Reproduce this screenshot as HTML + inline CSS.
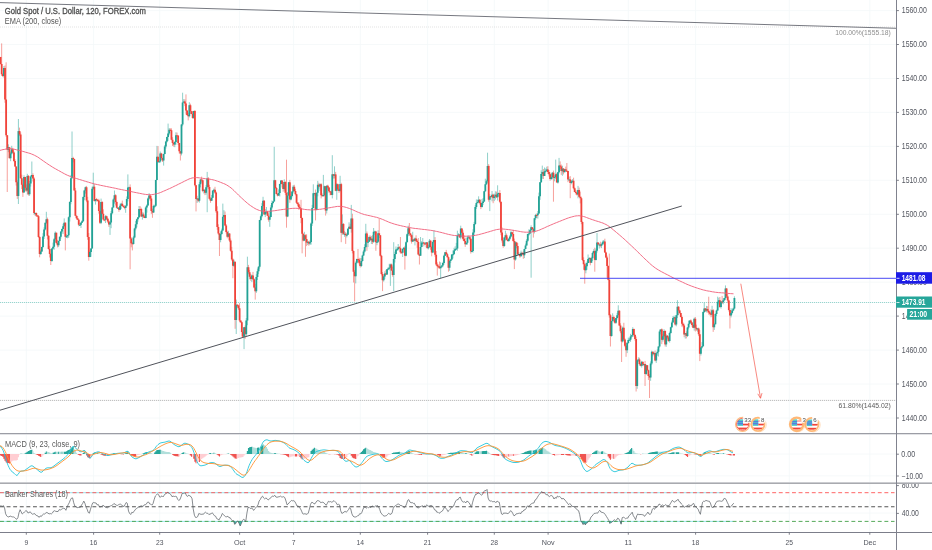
<!DOCTYPE html>
<html><head><meta charset="utf-8"><title>XAUUSD chart</title>
<style>
html,body{margin:0;padding:0;background:#fff;}
body{width:932px;height:550px;overflow:hidden;}
svg{display:block;font-family:"Liberation Sans",sans-serif;}
</style></head><body>
<svg width="932" height="550" viewBox="0 0 932 550" style="will-change:transform">
<rect x="0" y="0" width="932" height="550" fill="#ffffff"/>
<path d="M26.3 0V532M93.6 0V532M159.7 0V532M239.6 0V532M293.6 0V532M360.3 0V532M427.6 0V532M494.3 0V532M548.1 0V532M628.3 0V532M695.6 0V532M789.3 0V532M869.8 0V532" stroke="#f3f7f9" stroke-width="0.8" fill="none"/>
<path d="M0 418.0H896.5M0 384.0H896.5M0 350.1H896.5M0 316.1H896.5M0 282.2H896.5M0 248.2H896.5M0 214.3H896.5M0 180.3H896.5M0 146.4H896.5M0 112.4H896.5M0 78.5H896.5M0 44.5H896.5M0 10.6H896.5M0 454H896.5M0 475.8H896.5M0 513H896.5" stroke="#f4f7f9" stroke-width="0.8" fill="none"/>
<path d="M0 27H896.5" stroke="#d0d0d0" stroke-width="0.6" stroke-dasharray="1 1" fill="none"/>
<path d="M0 400.4H896.5" stroke="#8c8c8c" stroke-width="0.6" stroke-dasharray="1.2 0.8" fill="none"/>
<path d="M0 302.5H896.5" stroke="#26a69a" stroke-width="0.6" stroke-opacity="0.8" stroke-dasharray="1.2 0.8" fill="none"/>
<path d="M0 2.6L896.5 28.3" stroke="#666972" stroke-width="0.9" fill="none"/>
<g fill="none" stroke-width="1.0" stroke-opacity="0.5"><path d="M0.55 56.9V64.5M1.67 43.4V75.9M2.78 73.3V77.1" stroke="#f0433a"/><path d="M3.90 66.0V77.6" stroke="#22a295"/><path d="M5.02 65.5V102.8M6.13 62.3V136.9M7.25 135.0V192.0" stroke="#f0433a"/><path d="M8.37 144.3V152.2" stroke="#22a295"/><path d="M9.49 147.2V158.4" stroke="#f0433a"/><path d="M10.60 151.6V161.2M11.72 145.8V154.4" stroke="#22a295"/><path d="M12.84 147.8V153.1M13.95 151.4V162.1M15.07 159.2V166.9M16.19 166.4V185.6M17.30 180.3V198.9" stroke="#f0433a"/><path d="M18.42 119.0V204.0" stroke="#22a295"/><path d="M19.54 127.6V136.1M20.66 132.3V178.7M21.77 174.7V189.1M22.89 183.7V196.9" stroke="#f0433a"/><path d="M24.01 175.3V192.6" stroke="#22a295"/><path d="M25.12 176.7V191.4M26.24 184.4V191.8" stroke="#f0433a"/><path d="M27.36 173.8V194.6" stroke="#22a295"/><path d="M28.48 175.1V195.6" stroke="#f0433a"/><path d="M29.59 181.0V195.9M30.71 175.4V186.6M31.83 161.5V176.9" stroke="#22a295"/><path d="M32.94 173.3V181.5M34.06 177.2V214.8" stroke="#f0433a"/><path d="M35.18 212.5V215.8" stroke="#22a295"/><path d="M36.29 212.4V216.9M37.41 214.9V216.8M38.53 215.1V237.8M39.64 236.1V257.3" stroke="#f0433a"/><path d="M40.76 249.7V255.0M41.88 246.6V251.9M43.00 233.2V247.8M44.11 227.3V239.0M45.23 222.7V230.4M46.35 211.8V223.9" stroke="#22a295"/><path d="M47.46 217.6V239.5M48.58 235.2V249.6M49.70 245.7V257.5M50.81 252.9V265.0" stroke="#f0433a"/><path d="M51.93 248.2V261.9M53.05 242.6V249.4M54.17 238.0V249.7M55.28 231.4V242.0" stroke="#22a295"/><path d="M56.40 232.6V243.9M57.52 239.9V247.4" stroke="#f0433a"/><path d="M58.63 240.5V247.1M59.75 236.4V241.2M60.87 231.4V238.6M61.98 228.5V233.5M63.10 223.8V234.1M64.22 218.4V226.4" stroke="#22a295"/><path d="M65.34 222.3V250.4" stroke="#f0433a"/><path d="M66.45 234.3V238.0M67.57 234.9V238.3M68.69 216.4V237.9M69.80 201.2V221.5M70.92 174.9V204.3M72.04 131.5V178.4" stroke="#22a295"/><path d="M73.16 156.8V162.4M74.27 158.7V190.5M75.39 187.9V216.1M76.51 215.4V219.5M77.62 216.1V219.8M78.74 218.9V226.3" stroke="#f0433a"/><path d="M79.86 223.0V225.4M80.97 222.1V228.0M82.09 220.1V222.9M83.21 196.3V221.9M84.33 189.8V200.2M85.44 186.5V193.6" stroke="#22a295"/><path d="M86.56 185.9V202.2M87.68 196.8V239.8M88.79 233.0V260.7" stroke="#f0433a"/><path d="M89.91 250.6V257.3M91.03 248.1V256.8M92.14 186.6V248.5M93.26 172.7V189.9" stroke="#22a295"/><path d="M94.38 184.1V201.6" stroke="#f0433a"/><path d="M95.49 199.0V204.6" stroke="#22a295"/><path d="M96.61 197.9V201.6M97.73 199.4V201.7M98.85 198.8V213.7M99.96 210.9V224.0" stroke="#f0433a"/><path d="M101.08 198.6V224.1" stroke="#22a295"/><path d="M102.20 201.1V214.3M103.31 209.3V220.5M104.43 219.3V221.2" stroke="#f0433a"/><path d="M105.55 215.1V223.0" stroke="#22a295"/><path d="M106.66 215.5V219.9M107.78 217.9V222.9M108.90 220.3V226.9" stroke="#f0433a"/><path d="M110.02 221.6V234.9M111.13 211.0V228.2M112.25 207.2V214.3M113.37 198.4V207.6M114.48 190.5V203.6" stroke="#22a295"/><path d="M115.60 194.2V205.5M116.72 200.7V208.4" stroke="#f0433a"/><path d="M117.83 207.0V208.6" stroke="#22a295"/><path d="M118.95 207.1V211.9" stroke="#f0433a"/><path d="M120.07 203.6V210.2M121.19 202.8V209.1" stroke="#22a295"/><path d="M122.30 200.6V206.1M123.42 204.9V207.5M124.54 205.3V209.3" stroke="#f0433a"/><path d="M125.65 205.4V212.8M126.77 196.5V206.9M127.89 174.4V201.4M129.01 186.7V191.1" stroke="#22a295"/><path d="M130.12 184.4V269.3M131.24 237.2V247.3M132.36 241.8V250.4" stroke="#f0433a"/><path d="M133.47 235.8V244.5M134.59 227.7V238.3M135.71 221.0V230.3M136.82 218.6V227.3M137.94 217.3V221.7M139.06 206.0V218.1" stroke="#22a295"/><path d="M140.18 206.2V210.8M141.29 207.7V217.0" stroke="#f0433a"/><path d="M142.41 212.4V219.6" stroke="#22a295"/><path d="M143.53 212.6V218.0M144.64 215.7V218.1" stroke="#f0433a"/><path d="M145.76 206.3V218.3M146.88 204.3V212.6M147.99 197.5V205.5M149.11 193.1V199.7" stroke="#22a295"/><path d="M150.23 195.0V201.0M151.34 195.8V214.1M152.46 208.7V217.8" stroke="#f0433a"/><path d="M153.58 204.7V213.0M154.70 204.8V208.1M155.81 179.8V206.8M156.93 145.9V180.1" stroke="#22a295"/><path d="M158.05 146.1V162.5" stroke="#f0433a"/><path d="M159.16 161.2V162.1M160.28 151.5V162.6" stroke="#22a295"/><path d="M161.40 152.8V159.8M162.52 157.7V162.0" stroke="#f0433a"/><path d="M163.63 153.7V165.6M164.75 145.0V154.3M165.87 140.7V148.6M166.98 136.6V142.5M168.10 123.6V140.8M169.22 128.0V135.3" stroke="#22a295"/><path d="M170.33 128.2V130.9M171.45 128.3V140.3M172.57 137.2V146.0M173.69 141.9V146.7" stroke="#f0433a"/><path d="M174.80 141.1V147.2M175.92 132.3V144.9" stroke="#22a295"/><path d="M177.04 132.6V139.0M178.15 135.4V145.1M179.27 143.0V153.5M180.39 151.1V160.5" stroke="#f0433a"/><path d="M181.50 124.1V155.4M182.62 92.7V126.2M183.74 99.1V102.8" stroke="#22a295"/><path d="M184.86 99.3V106.1M185.97 94.4V114.5M187.09 110.2V115.6M188.21 112.8V120.4" stroke="#f0433a"/><path d="M189.32 102.2V117.4" stroke="#22a295"/><path d="M190.44 103.7V114.0M191.56 111.0V114.2M192.67 111.0V118.8" stroke="#f0433a"/><path d="M193.79 110.8V118.9" stroke="#22a295"/><path d="M194.91 110.0V186.5M196.03 184.9V211.4" stroke="#f0433a"/><path d="M197.14 195.8V202.9" stroke="#22a295"/><path d="M198.26 198.1V202.0" stroke="#f0433a"/><path d="M199.38 181.9V202.6M200.49 179.0V187.4" stroke="#22a295"/><path d="M201.61 176.6V182.7M202.73 179.5V192.2" stroke="#f0433a"/><path d="M203.84 188.9V193.5" stroke="#22a295"/><path d="M204.96 189.7V195.1" stroke="#f0433a"/><path d="M206.08 185.1V194.7M207.20 171.9V212.2" stroke="#22a295"/><path d="M208.31 177.0V189.1M209.43 184.8V199.7M210.55 197.3V202.8" stroke="#f0433a"/><path d="M211.66 195.0V200.8M212.78 190.4V197.9M213.90 188.5V192.6" stroke="#22a295"/><path d="M215.01 186.8V193.9M216.13 191.5V213.0M217.25 206.3V229.8M218.37 224.3V234.9M219.48 233.1V256.0" stroke="#f0433a"/><path d="M220.60 231.4V242.3M221.72 228.6V234.8M222.83 203.6V230.7M223.95 210.2V217.3" stroke="#22a295"/><path d="M225.07 211.5V226.2M226.18 224.0V233.5M227.30 230.7V238.3" stroke="#f0433a"/><path d="M228.42 230.8V237.2" stroke="#22a295"/><path d="M229.53 233.3V242.1M230.65 238.5V251.7M231.77 246.9V260.8M232.89 258.3V278.2" stroke="#f0433a"/><path d="M234.00 259.6V267.1" stroke="#22a295"/><path d="M235.12 261.4V328.8" stroke="#f0433a"/><path d="M236.24 299.6V334.0" stroke="#22a295"/><path d="M237.35 304.2V307.4M238.47 304.8V309.9M239.59 303.1V322.2M240.71 320.4V322.9M241.82 321.5V336.5M242.94 331.3V336.9" stroke="#f0433a"/><path d="M244.06 327.1V349.1" stroke="#22a295"/><path d="M245.17 325.5V338.8" stroke="#f0433a"/><path d="M246.29 318.0V336.2M247.41 256.7V325.2" stroke="#22a295"/><path d="M248.52 264.9V274.2M249.64 269.9V279.3M250.76 274.1V280.8" stroke="#f0433a"/><path d="M251.88 274.7V282.1" stroke="#22a295"/><path d="M252.99 271.9V280.3M254.11 278.2V288.3M255.23 283.8V299.6" stroke="#f0433a"/><path d="M256.34 274.2V292.9M257.46 268.6V280.0M258.58 266.1V274.1M259.69 219.9V268.6M260.81 214.5V221.0M261.93 203.1V217.5M263.05 196.8V206.3" stroke="#22a295"/><path d="M264.16 200.1V214.8" stroke="#f0433a"/><path d="M265.28 209.1V217.1M266.40 207.0V214.3" stroke="#22a295"/><path d="M267.51 211.0V215.9M268.63 213.5V221.7" stroke="#f0433a"/><path d="M269.75 211.2V226.8M270.86 205.1V217.2M271.98 200.5V209.3M273.10 201.1V204.3M274.22 146.8V201.5" stroke="#22a295"/><path d="M275.33 179.8V188.9M276.45 187.0V194.2M277.57 193.1V196.4" stroke="#f0433a"/><path d="M278.68 189.4V196.0M279.80 183.7V196.5M280.92 180.3V184.5" stroke="#22a295"/><path d="M282.03 180.1V187.5M283.15 181.9V191.8" stroke="#f0433a"/><path d="M284.27 179.3V190.6" stroke="#22a295"/><path d="M285.38 181.3V195.1M286.50 159.7V227.7" stroke="#f0433a"/><path d="M287.62 192.1V217.2M288.74 181.9V195.6" stroke="#22a295"/><path d="M289.85 179.9V202.8" stroke="#f0433a"/><path d="M290.97 194.4V200.4M292.09 191.2V197.4M293.20 185.1V193.4" stroke="#22a295"/><path d="M294.32 184.8V191.7M295.44 188.8V195.4M296.56 193.8V203.9M297.67 202.2V206.2M298.79 202.3V209.8M299.91 205.4V209.3M301.02 199.8V223.2M302.14 217.4V253.3M303.26 233.5V241.3" stroke="#f0433a"/><path d="M304.37 231.8V241.1" stroke="#22a295"/><path d="M305.49 234.3V256.8M306.61 234.2V246.1" stroke="#f0433a"/><path d="M307.73 240.4V245.0" stroke="#22a295"/><path d="M308.84 241.0V245.8" stroke="#f0433a"/><path d="M309.96 240.3V245.0M311.08 222.4V244.7M312.19 204.9V226.0M313.31 184.3V208.2M314.43 192.8V195.5" stroke="#22a295"/><path d="M315.54 189.5V220.4" stroke="#f0433a"/><path d="M316.66 192.3V210.4M317.78 180.9V196.3" stroke="#22a295"/><path d="M318.89 182.8V188.7" stroke="#f0433a"/><path d="M320.01 183.7V190.8" stroke="#22a295"/><path d="M321.13 183.2V198.4M322.25 193.5V196.4" stroke="#f0433a"/><path d="M323.36 174.9V196.8M324.48 185.7V196.3" stroke="#22a295"/><path d="M325.60 186.2V215.6" stroke="#f0433a"/><path d="M326.71 185.4V213.5" stroke="#22a295"/><path d="M327.83 184.7V189.7M328.95 187.0V192.8M330.06 191.2V195.3M331.18 190.5V195.1" stroke="#f0433a"/><path d="M332.30 155.2V198.4" stroke="#22a295"/><path d="M333.42 174.0V178.6" stroke="#f0433a"/><path d="M334.53 166.3V178.5" stroke="#22a295"/><path d="M335.65 171.9V191.2" stroke="#f0433a"/><path d="M336.77 183.0V199.8" stroke="#22a295"/><path d="M337.88 183.7V190.5M339.00 188.6V192.9" stroke="#f0433a"/><path d="M340.12 175.8V191.8" stroke="#22a295"/><path d="M341.24 182.8V242.2" stroke="#f0433a"/><path d="M342.35 214.4V234.9" stroke="#22a295"/><path d="M343.47 223.2V234.7" stroke="#f0433a"/><path d="M344.59 231.2V236.8" stroke="#22a295"/><path d="M345.70 232.1V243.9" stroke="#f0433a"/><path d="M346.82 233.2V237.4M347.94 228.2V234.8M349.05 222.3V229.0" stroke="#22a295"/><path d="M350.17 223.9V229.2" stroke="#f0433a"/><path d="M351.29 204.9V232.7" stroke="#22a295"/><path d="M352.41 213.7V253.4M353.52 250.5V282.5M354.64 270.1V301.4" stroke="#f0433a"/><path d="M355.76 261.4V283.4M356.87 258.6V263.7" stroke="#22a295"/><path d="M357.99 249.0V260.3M359.11 257.8V264.4M360.22 258.1V267.5" stroke="#f0433a"/><path d="M361.34 258.2V267.1M362.46 254.7V261.6M363.57 249.8V256.0M364.69 244.2V252.6M365.81 223.8V248.0" stroke="#22a295"/><path d="M366.93 231.5V250.8" stroke="#f0433a"/><path d="M368.04 238.7V247.1M369.16 235.6V241.8" stroke="#22a295"/><path d="M370.28 235.5V240.6" stroke="#f0433a"/><path d="M371.39 235.9V244.0" stroke="#22a295"/><path d="M372.51 235.2V244.1" stroke="#f0433a"/><path d="M373.63 228.0V242.9M374.75 230.7V234.8" stroke="#22a295"/><path d="M375.86 230.8V250.8" stroke="#f0433a"/><path d="M376.98 239.5V245.2M378.10 230.3V242.9" stroke="#22a295"/><path d="M379.21 218.7V238.0M380.33 235.1V256.7M381.45 254.9V275.4M382.56 272.1V291.1" stroke="#f0433a"/><path d="M383.68 275.7V281.6M384.80 271.3V279.1" stroke="#22a295"/><path d="M385.92 269.9V274.8" stroke="#f0433a"/><path d="M387.03 269.1V275.0M388.15 267.2V270.0M389.27 263.8V270.4M390.38 263.6V285.9" stroke="#22a295"/><path d="M391.50 263.6V270.8M392.62 266.6V276.7" stroke="#f0433a"/><path d="M393.73 242.2V291.1M394.85 251.7V262.5M395.97 246.5V254.4M397.09 248.2V250.7M398.20 244.0V250.4" stroke="#22a295"/><path d="M399.32 246.1V248.6M400.44 237.0V253.6M401.55 251.2V253.5" stroke="#f0433a"/><path d="M402.67 248.3V257.0M403.79 247.0V250.0" stroke="#22a295"/><path d="M404.90 245.8V269.6" stroke="#f0433a"/><path d="M406.02 241.3V256.4M407.14 233.5V242.3M408.25 225.7V236.2" stroke="#22a295"/><path d="M409.37 223.0V235.9M410.49 233.1V236.9M411.61 234.6V243.6" stroke="#f0433a"/><path d="M412.72 231.8V242.0" stroke="#22a295"/><path d="M413.84 238.6V241.3" stroke="#f0433a"/><path d="M414.96 237.5V245.4" stroke="#22a295"/><path d="M416.07 235.3V242.1M417.19 239.2V247.8M418.31 238.0V254.8M419.43 253.7V264.5" stroke="#f0433a"/><path d="M420.54 237.0V255.7M421.66 241.1V247.2M422.78 238.0V244.4" stroke="#22a295"/><path d="M423.89 241.9V246.4M425.01 242.7V244.9" stroke="#f0433a"/><path d="M426.13 242.0V247.3" stroke="#22a295"/><path d="M427.24 242.1V248.8" stroke="#f0433a"/><path d="M428.36 244.7V249.5M429.48 239.0V247.3" stroke="#22a295"/><path d="M430.60 239.9V249.8M431.71 245.9V256.3" stroke="#f0433a"/><path d="M432.83 240.6V253.2M433.95 230.2V243.3" stroke="#22a295"/><path d="M435.06 237.1V256.7M436.18 251.0V265.9M437.30 262.4V275.6M438.41 264.6V268.3M439.53 261.5V268.7" stroke="#f0433a"/><path d="M440.65 262.3V278.2M441.76 265.3V268.1M442.88 261.8V267.2M444.00 254.7V264.7M445.12 252.1V255.9" stroke="#22a295"/><path d="M446.23 249.9V254.5M447.35 253.1V257.6M448.47 256.4V271.7" stroke="#f0433a"/><path d="M449.58 259.7V270.8M450.70 258.8V263.1M451.82 254.2V260.1M452.94 250.4V258.4M454.05 247.8V254.3M455.17 246.3V251.0M456.29 242.9V249.8M457.40 230.7V250.8M458.52 233.2V236.5" stroke="#22a295"/><path d="M459.64 234.3V237.9" stroke="#f0433a"/><path d="M460.75 225.7V239.3" stroke="#22a295"/><path d="M461.87 228.4V233.1M462.99 230.3V240.4M464.11 235.3V241.6M465.22 237.6V246.9" stroke="#f0433a"/><path d="M466.34 242.5V244.9M467.46 235.7V244.6M468.57 235.5V237.5" stroke="#22a295"/><path d="M469.69 235.7V240.2M470.81 236.8V253.6" stroke="#f0433a"/><path d="M471.92 250.2V252.3M473.04 229.2V252.6M474.16 221.9V236.0M475.28 204.9V224.9M476.39 199.4V208.9M477.51 199.7V203.4M478.63 196.3V203.3" stroke="#22a295"/><path d="M479.74 199.0V204.5M480.86 201.9V209.1" stroke="#f0433a"/><path d="M481.98 199.0V207.5M483.09 198.0V205.1M484.21 190.9V202.0M485.33 178.7V191.9M486.44 179.8V184.9M487.56 152.7V182.8" stroke="#22a295"/><path d="M488.68 164.1V201.7" stroke="#f0433a"/><path d="M489.80 194.2V211.1" stroke="#22a295"/><path d="M490.91 195.8V196.9" stroke="#f0433a"/><path d="M492.03 191.0V201.3" stroke="#22a295"/><path d="M493.15 193.8V203.2" stroke="#f0433a"/><path d="M494.26 193.8V201.1M495.38 191.3V199.6" stroke="#22a295"/><path d="M496.50 191.6V197.9" stroke="#f0433a"/><path d="M497.62 185.3V200.5M498.73 192.5V196.3" stroke="#22a295"/><path d="M499.85 190.1V203.2M500.97 201.8V235.2M502.08 227.5V242.6M503.20 239.9V247.8" stroke="#f0433a"/><path d="M504.32 236.9V246.8M505.43 230.7V240.6" stroke="#22a295"/><path d="M506.55 233.5V239.9M507.67 237.1V241.6" stroke="#f0433a"/><path d="M508.79 238.1V241.9M509.90 235.1V240.1M511.02 230.7V237.4" stroke="#22a295"/><path d="M512.14 232.2V234.9M513.25 229.9V242.1M514.37 238.6V269.1" stroke="#f0433a"/><path d="M515.49 241.5V260.7" stroke="#22a295"/><path d="M516.60 241.8V248.3M517.72 243.1V255.3" stroke="#f0433a"/><path d="M518.84 252.0V254.8" stroke="#22a295"/><path d="M519.95 253.8V257.9" stroke="#f0433a"/><path d="M521.07 250.6V256.5" stroke="#22a295"/><path d="M522.19 252.4V253.5M523.31 250.7V258.8" stroke="#f0433a"/><path d="M524.42 248.8V258.1M525.54 243.6V249.1M526.66 239.0V245.5M527.77 233.7V242.1M528.89 229.3V235.7M530.01 229.5V233.7M531.12 225.4V277.7" stroke="#22a295"/><path d="M532.24 227.1V230.0M533.36 228.1V237.6" stroke="#f0433a"/><path d="M534.48 218.1V233.4M535.59 213.9V219.9" stroke="#22a295"/><path d="M536.71 213.6V218.0" stroke="#f0433a"/><path d="M537.83 211.0V218.6M538.94 192.6V213.8M540.06 182.0V199.9M541.18 170.3V182.8M542.29 165.6V178.8" stroke="#22a295"/><path d="M543.41 169.0V179.0" stroke="#f0433a"/><path d="M544.53 167.5V176.0M545.65 168.5V172.6M546.76 166.7V171.4" stroke="#22a295"/><path d="M547.88 166.2V174.0M549.00 170.0V176.5M550.11 172.5V180.7" stroke="#f0433a"/><path d="M551.23 173.8V179.9M552.35 172.1V179.3" stroke="#22a295"/><path d="M553.46 170.6V201.7" stroke="#f0433a"/><path d="M554.58 175.3V181.3M555.70 159.6V179.1" stroke="#22a295"/><path d="M556.82 172.9V182.9" stroke="#f0433a"/><path d="M557.93 171.8V183.6M559.05 157.9V173.5" stroke="#22a295"/><path d="M560.17 161.4V169.0M561.28 164.5V174.9" stroke="#f0433a"/><path d="M562.40 165.7V175.8" stroke="#22a295"/><path d="M563.52 168.0V174.4" stroke="#f0433a"/><path d="M564.63 169.0V172.3" stroke="#22a295"/><path d="M565.75 166.6V171.6M566.87 163.0V171.2M567.99 170.7V182.2" stroke="#f0433a"/><path d="M569.10 176.7V179.5" stroke="#22a295"/><path d="M570.22 176.1V198.2" stroke="#f0433a"/><path d="M571.34 180.0V184.3M572.45 179.1V182.7" stroke="#22a295"/><path d="M573.57 177.7V189.4M574.69 187.3V192.1M575.80 190.4V194.6M576.92 190.4V195.5" stroke="#f0433a"/><path d="M578.04 185.9V198.3" stroke="#22a295"/><path d="M579.16 187.6V197.0M580.27 191.6V203.4M581.39 196.7V224.2M582.51 221.4V261.1M583.62 257.3V269.8M584.74 263.1V283.7" stroke="#f0433a"/><path d="M585.86 262.6V273.3M586.97 261.4V269.9M588.09 254.5V263.2M589.21 257.0V259.7" stroke="#22a295"/><path d="M590.33 257.5V265.3" stroke="#f0433a"/><path d="M591.44 256.8V262.8M592.56 251.8V261.0M593.68 249.2V254.3" stroke="#22a295"/><path d="M594.79 247.7V271.7" stroke="#f0433a"/><path d="M595.91 248.6V260.5M597.03 233.0V252.6" stroke="#22a295"/><path d="M598.14 242.4V244.7" stroke="#f0433a"/><path d="M599.26 243.1V248.5" stroke="#22a295"/><path d="M600.38 241.7V247.4" stroke="#f0433a"/><path d="M601.50 243.4V248.1M602.61 240.6V244.9M603.73 240.0V244.4" stroke="#22a295"/><path d="M604.85 238.7V252.8M605.96 251.7V258.2M607.08 255.6V277.7M608.20 265.3V280.4M609.31 253.6V317.7M610.43 314.0V346.5" stroke="#f0433a"/><path d="M611.55 320.8V336.7M612.67 313.3V321.4" stroke="#22a295"/><path d="M613.78 315.6V322.3M614.90 318.4V323.8" stroke="#f0433a"/><path d="M616.02 317.8V323.8M617.13 312.9V319.6M618.25 305.3V317.3" stroke="#22a295"/><path d="M619.37 310.1V326.1M620.48 323.3V333.2M621.60 329.0V362.0" stroke="#f0433a"/><path d="M622.72 326.5V342.5" stroke="#22a295"/><path d="M623.84 322.8V340.9M624.95 338.4V347.2M626.07 342.4V356.8" stroke="#f0433a"/><path d="M627.19 342.1V353.1M628.30 337.6V343.8M629.42 338.1V340.6M630.54 333.8V341.9M631.65 334.9V338.4M632.77 327.2V337.0" stroke="#22a295"/><path d="M633.89 328.6V336.5M635.01 333.9V340.7M636.12 336.6V391.5" stroke="#f0433a"/><path d="M637.24 359.4V388.8M638.36 357.3V361.9" stroke="#22a295"/><path d="M639.47 357.7V365.4M640.59 362.9V366.3" stroke="#f0433a"/><path d="M641.71 360.8V367.6" stroke="#22a295"/><path d="M642.82 361.7V366.0" stroke="#f0433a"/><path d="M643.94 363.7V366.2" stroke="#22a295"/><path d="M645.06 360.9V386.0" stroke="#f0433a"/><path d="M646.18 364.6V375.1" stroke="#22a295"/><path d="M647.29 365.0V371.1M648.41 369.6V380.0M649.53 374.2V398.0" stroke="#f0433a"/><path d="M650.64 361.4V380.8M651.76 350.7V365.1" stroke="#22a295"/><path d="M652.88 351.5V356.3" stroke="#f0433a"/><path d="M654.00 351.6V354.6" stroke="#22a295"/><path d="M655.11 350.5V361.3" stroke="#f0433a"/><path d="M656.23 352.8V362.9M657.35 349.4V355.7M658.46 346.3V356.5M659.58 329.6V347.7M660.70 329.3V334.4" stroke="#22a295"/><path d="M661.81 328.4V344.1" stroke="#f0433a"/><path d="M662.93 334.3V341.6M664.05 329.2V336.6" stroke="#22a295"/><path d="M665.16 330.6V346.5" stroke="#f0433a"/><path d="M666.28 334.3V346.8" stroke="#22a295"/><path d="M667.40 335.0V339.4M668.52 336.2V341.8" stroke="#f0433a"/><path d="M669.63 331.7V342.6M670.75 326.7V333.8M671.87 320.5V328.0M672.98 316.2V322.4M674.10 315.6V318.8" stroke="#22a295"/><path d="M675.22 317.2V325.6" stroke="#f0433a"/><path d="M676.33 314.9V326.3M677.45 300.2V318.1" stroke="#22a295"/><path d="M678.57 306.1V315.1M679.69 309.8V313.9M680.80 312.9V317.5M681.92 315.5V326.7M683.04 322.4V327.4M684.15 323.7V337.2" stroke="#f0433a"/><path d="M685.27 333.1V338.6" stroke="#22a295"/><path d="M686.39 331.3V338.4" stroke="#f0433a"/><path d="M687.50 327.1V336.9M688.62 320.7V329.4M689.74 320.4V324.4" stroke="#22a295"/><path d="M690.86 319.3V322.9M691.97 321.9V326.7M693.09 324.4V328.1" stroke="#f0433a"/><path d="M694.21 317.6V330.6" stroke="#22a295"/><path d="M695.32 317.0V331.5M696.44 324.6V330.8" stroke="#f0433a"/><path d="M697.56 328.3V331.7" stroke="#22a295"/><path d="M698.67 327.6V336.1M699.79 330.0V361.1" stroke="#f0433a"/><path d="M700.91 347.2V355.5M702.03 342.1V348.6M703.14 311.4V346.7M704.26 302.7V313.0" stroke="#22a295"/><path d="M705.38 308.0V312.0" stroke="#f0433a"/><path d="M706.49 305.9V312.4" stroke="#22a295"/><path d="M707.61 306.2V312.5M708.73 296.7V314.7M709.84 311.5V315.4M710.96 309.3V317.3" stroke="#f0433a"/><path d="M712.08 305.8V316.8" stroke="#22a295"/><path d="M713.20 309.0V331.9" stroke="#f0433a"/><path d="M714.31 322.8V329.9M715.43 313.2V324.5M716.55 309.7V316.1M717.66 296.7V310.8M718.78 297.7V304.4" stroke="#22a295"/><path d="M719.90 297.0V307.9" stroke="#f0433a"/><path d="M721.01 300.9V308.6" stroke="#22a295"/><path d="M722.13 295.9V303.9" stroke="#f0433a"/><path d="M723.25 298.5V304.3M724.37 297.9V301.1M725.48 285.4V299.7" stroke="#22a295"/><path d="M726.60 288.0V298.2M727.72 294.1V303.1M728.83 299.7V311.5M729.95 309.9V328.5" stroke="#f0433a"/><path d="M731.07 308.1V317.4M732.18 309.3V314.4M733.30 307.6V311.2M734.42 296.3V309.3" stroke="#22a295"/></g><g fill="none" stroke-width="1.8"><path d="M0.55 57.0V64.1M1.67 64.1V74.2M2.78 74.2V76.0" stroke="#f0433a"/><path d="M3.90 68.0V76.0" stroke="#22a295"/><path d="M5.02 68.0V99.6M6.13 99.6V135.2M7.25 135.2V149.8" stroke="#f0433a"/><path d="M8.37 147.2V149.8" stroke="#22a295"/><path d="M9.49 147.2V158.2" stroke="#f0433a"/><path d="M10.60 153.6V158.2M11.72 149.3V153.6" stroke="#22a295"/><path d="M12.84 149.3V152.6M13.95 152.6V161.1M15.07 161.1V166.5M16.19 166.5V182.2M17.30 182.2V196.0" stroke="#f0433a"/><path d="M18.42 131.1V196.0" stroke="#22a295"/><path d="M19.54 131.1V134.6M20.66 134.6V178.3M21.77 178.3V184.7M22.89 184.7V192.4" stroke="#f0433a"/><path d="M24.01 177.0V192.4" stroke="#22a295"/><path d="M25.12 177.0V187.8M26.24 187.8V190.6" stroke="#f0433a"/><path d="M27.36 175.9V190.6" stroke="#22a295"/><path d="M28.48 175.9V194.2" stroke="#f0433a"/><path d="M29.59 183.6V194.2M30.71 176.6V183.6M31.83 175.1V176.6" stroke="#22a295"/><path d="M32.94 175.1V178.6M34.06 178.6V213.0" stroke="#f0433a"/><path d="M35.18 213.0V214.0" stroke="#22a295"/><path d="M36.29 213.0V215.5M37.41 215.5V216.5M38.53 216.2V237.1M39.64 237.1V254.1" stroke="#f0433a"/><path d="M40.76 251.5V254.1M41.88 246.9V251.5M43.00 236.5V246.9M44.11 229.6V236.5M45.23 222.8V229.6M46.35 219.3V222.8" stroke="#22a295"/><path d="M47.46 219.3V235.8M48.58 235.8V249.0M49.70 249.0V253.9M50.81 253.9V260.9" stroke="#f0433a"/><path d="M51.93 248.5V260.9M53.05 246.8V248.5M54.17 239.2V246.8M55.28 232.8V239.2" stroke="#22a295"/><path d="M56.40 232.8V242.9M57.52 242.9V245.2" stroke="#f0433a"/><path d="M58.63 241.0V245.2M59.75 236.8V241.0M60.87 231.4V236.8M61.98 229.0V231.4M63.10 226.3V229.0M64.22 222.7V226.3" stroke="#22a295"/><path d="M65.34 222.7V236.8" stroke="#f0433a"/><path d="M66.45 236.3V237.3M67.57 235.3V236.3M68.69 217.2V235.3M69.80 202.1V217.2M70.92 178.3V202.1M72.04 157.9V178.3" stroke="#22a295"/><path d="M73.16 157.9V158.9M74.27 158.9V190.4M75.39 190.4V215.8M76.51 215.8V218.2M77.62 218.2V219.7M78.74 219.7V224.8" stroke="#f0433a"/><path d="M79.86 224.7V225.7M80.97 222.8V224.7M82.09 221.2V222.8M83.21 196.9V221.2M84.33 190.6V196.9M85.44 187.2V190.6" stroke="#22a295"/><path d="M86.56 187.2V200.5M87.68 200.5V236.9M88.79 236.9V257.0" stroke="#f0433a"/><path d="M89.91 252.1V257.0M91.03 248.4V252.1M92.14 188.8V248.4M93.26 186.7V188.8" stroke="#22a295"/><path d="M94.38 186.7V201.0" stroke="#f0433a"/><path d="M95.49 199.1V201.0" stroke="#22a295"/><path d="M96.61 199.1V200.1M97.73 199.9V200.9M98.85 200.6V211.0M99.96 211.0V222.7" stroke="#f0433a"/><path d="M101.08 202.1V222.7" stroke="#22a295"/><path d="M102.20 202.1V213.7M103.31 213.7V219.4M104.43 219.4V220.4" stroke="#f0433a"/><path d="M105.55 216.2V219.8" stroke="#22a295"/><path d="M106.66 216.2V218.8M107.78 218.8V221.6M108.90 221.6V224.6" stroke="#f0433a"/><path d="M110.02 222.6V224.6M111.13 213.3V222.6M112.25 207.4V213.3M113.37 199.4V207.4M114.48 195.2V199.4" stroke="#22a295"/><path d="M115.60 195.2V202.1M116.72 202.1V207.8" stroke="#f0433a"/><path d="M117.83 207.7V208.7" stroke="#22a295"/><path d="M118.95 207.7V209.8" stroke="#f0433a"/><path d="M120.07 205.8V209.8M121.19 203.7V205.8" stroke="#22a295"/><path d="M122.30 203.7V206.1M123.42 206.1V207.1M124.54 207.1V208.1" stroke="#f0433a"/><path d="M125.65 205.7V208.0M126.77 199.1V205.7M127.89 187.6V199.1M129.01 187.2V188.2" stroke="#22a295"/><path d="M130.12 187.2V238.6M131.24 238.6V243.2M132.36 243.2V244.2" stroke="#f0433a"/><path d="M133.47 237.6V243.9M134.59 228.4V237.6M135.71 224.3V228.4M136.82 219.3V224.3M137.94 217.3V219.3M139.06 208.9V217.3" stroke="#22a295"/><path d="M140.18 208.9V209.9M141.29 209.0V216.4" stroke="#f0433a"/><path d="M142.41 214.5V216.4" stroke="#22a295"/><path d="M143.53 214.5V216.4M144.64 216.4V218.0" stroke="#f0433a"/><path d="M145.76 207.5V218.0M146.88 205.4V207.5M147.99 198.5V205.4M149.11 195.6V198.5" stroke="#22a295"/><path d="M150.23 195.6V198.4M151.34 198.4V211.0M152.46 211.0V212.5" stroke="#f0433a"/><path d="M153.58 206.1V212.5M154.70 205.7V206.7M155.81 179.9V205.7M156.93 156.8V179.9" stroke="#22a295"/><path d="M158.05 156.8V161.9" stroke="#f0433a"/><path d="M159.16 161.4V162.4M160.28 153.5V161.4" stroke="#22a295"/><path d="M161.40 153.5V157.9M162.52 157.9V160.4" stroke="#f0433a"/><path d="M163.63 154.0V160.4M164.75 146.5V154.0M165.87 141.4V146.5M166.98 136.9V141.4M168.10 133.4V136.9M169.22 129.7V133.4" stroke="#22a295"/><path d="M170.33 129.7V130.7M171.45 130.3V139.8M172.57 139.8V142.9M173.69 142.9V144.5" stroke="#f0433a"/><path d="M174.80 141.9V144.5M175.92 135.2V141.9" stroke="#22a295"/><path d="M177.04 135.2V136.2M178.15 135.6V143.0M179.27 143.0V151.2M180.39 151.2V153.6" stroke="#f0433a"/><path d="M181.50 124.4V153.6M182.62 102.5V124.4M183.74 101.4V102.5" stroke="#22a295"/><path d="M184.86 101.4V103.6M185.97 103.6V110.6M187.09 110.6V115.0M188.21 115.0V116.2" stroke="#f0433a"/><path d="M189.32 105.2V116.2" stroke="#22a295"/><path d="M190.44 105.2V111.3M191.56 111.3V114.1M192.67 114.1V117.9" stroke="#f0433a"/><path d="M193.79 111.0V117.9" stroke="#22a295"/><path d="M194.91 111.0V185.2M196.03 185.2V199.0" stroke="#f0433a"/><path d="M197.14 198.5V199.5" stroke="#22a295"/><path d="M198.26 198.5V200.7" stroke="#f0433a"/><path d="M199.38 184.2V200.7M200.49 179.6V184.2" stroke="#22a295"/><path d="M201.61 179.6V180.6M202.73 180.3V190.9" stroke="#f0433a"/><path d="M203.84 189.8V190.9" stroke="#22a295"/><path d="M204.96 189.8V192.8" stroke="#f0433a"/><path d="M206.08 187.2V192.8M207.20 178.6V187.2" stroke="#22a295"/><path d="M208.31 178.6V187.1M209.43 187.1V198.8M210.55 198.8V200.8" stroke="#f0433a"/><path d="M211.66 197.7V200.8M212.78 190.6V197.7M213.90 189.8V190.8" stroke="#22a295"/><path d="M215.01 189.8V192.6M216.13 192.6V211.2M217.25 211.2V227.1M218.37 227.1V233.5M219.48 233.5V240.1" stroke="#f0433a"/><path d="M220.60 234.0V240.1M221.72 230.4V234.0M222.83 216.8V230.4M223.95 214.9V216.8" stroke="#22a295"/><path d="M225.07 214.9V225.4M226.18 225.4V232.1M227.30 232.1V236.7" stroke="#f0433a"/><path d="M228.42 233.5V236.7" stroke="#22a295"/><path d="M229.53 233.5V240.6M230.65 240.6V250.8M231.77 250.8V259.4M232.89 259.4V265.7" stroke="#f0433a"/><path d="M234.00 261.8V265.7" stroke="#22a295"/><path d="M235.12 261.8V320.0" stroke="#f0433a"/><path d="M236.24 304.7V320.0" stroke="#22a295"/><path d="M237.35 304.7V305.7M238.47 305.5V308.2M239.59 308.2V320.6M240.71 320.6V322.3M241.82 322.3V332.0M242.94 332.0V336.7" stroke="#f0433a"/><path d="M244.06 327.3V336.7" stroke="#22a295"/><path d="M245.17 327.3V334.2" stroke="#f0433a"/><path d="M246.29 320.5V334.2M247.41 267.2V320.5" stroke="#22a295"/><path d="M248.52 267.2V272.3M249.64 272.3V276.8M250.76 276.8V278.9" stroke="#f0433a"/><path d="M251.88 275.5V278.9" stroke="#22a295"/><path d="M252.99 275.5V279.3M254.11 279.3V287.5M255.23 287.5V291.3" stroke="#f0433a"/><path d="M256.34 277.0V291.3M257.46 271.3V277.0M258.58 266.8V271.3M259.69 220.1V266.8M260.81 216.2V220.1M261.93 206.0V216.2M263.05 200.7V206.0" stroke="#22a295"/><path d="M264.16 200.7V214.4" stroke="#f0433a"/><path d="M265.28 212.1V214.4M266.40 211.4V212.4" stroke="#22a295"/><path d="M267.51 211.4V215.7M268.63 215.7V219.8" stroke="#f0433a"/><path d="M269.75 216.9V219.8M270.86 207.4V216.9M271.98 203.1V207.4M273.10 201.4V203.1M274.22 180.3V201.4" stroke="#22a295"/><path d="M275.33 180.3V187.9M276.45 187.9V193.9M277.57 193.9V195.6" stroke="#f0433a"/><path d="M278.68 192.9V195.6M279.80 183.9V192.9M280.92 180.6V183.9" stroke="#22a295"/><path d="M282.03 180.6V184.1M283.15 184.1V189.0" stroke="#f0433a"/><path d="M284.27 182.0V189.0" stroke="#22a295"/><path d="M285.38 182.0V192.7M286.50 192.7V216.4" stroke="#f0433a"/><path d="M287.62 195.5V216.4M288.74 182.3V195.5" stroke="#22a295"/><path d="M289.85 182.3V199.5" stroke="#f0433a"/><path d="M290.97 196.1V199.5M292.09 191.4V196.1M293.20 186.7V191.4" stroke="#22a295"/><path d="M294.32 186.7V190.9M295.44 190.9V194.3M296.56 194.3V202.8M297.67 202.8V204.2M298.79 204.2V207.3M299.91 207.3V208.3M301.02 208.2V218.1M302.14 218.1V233.7M303.26 233.7V240.6" stroke="#f0433a"/><path d="M304.37 235.2V240.6" stroke="#22a295"/><path d="M305.49 235.2V238.9M306.61 238.9V242.4" stroke="#f0433a"/><path d="M307.73 241.8V242.8" stroke="#22a295"/><path d="M308.84 241.8V243.6" stroke="#f0433a"/><path d="M309.96 242.0V243.6M311.08 223.6V242.0M312.19 208.1V223.6M313.31 193.2V208.1M314.43 193.0V194.0" stroke="#22a295"/><path d="M315.54 193.0V209.9" stroke="#f0433a"/><path d="M316.66 192.8V209.9M317.78 184.7V192.8" stroke="#22a295"/><path d="M318.89 184.7V186.6" stroke="#f0433a"/><path d="M320.01 184.3V186.6" stroke="#22a295"/><path d="M321.13 184.3V195.3M322.25 195.3V196.3" stroke="#f0433a"/><path d="M323.36 194.9V195.9M324.48 186.2V194.9" stroke="#22a295"/><path d="M325.60 186.2V210.5" stroke="#f0433a"/><path d="M326.71 185.7V210.5" stroke="#22a295"/><path d="M327.83 185.7V187.5M328.95 187.5V191.2M330.06 191.2V192.2M331.18 191.4V194.9" stroke="#f0433a"/><path d="M332.30 174.3V194.9" stroke="#22a295"/><path d="M333.42 174.3V175.7" stroke="#f0433a"/><path d="M334.53 174.4V175.7" stroke="#22a295"/><path d="M335.65 174.4V190.8" stroke="#f0433a"/><path d="M336.77 184.2V190.8" stroke="#22a295"/><path d="M337.88 184.2V189.2M339.00 189.2V190.9" stroke="#f0433a"/><path d="M340.12 184.1V190.9" stroke="#22a295"/><path d="M341.24 184.1V232.8" stroke="#f0433a"/><path d="M342.35 223.9V232.8" stroke="#22a295"/><path d="M343.47 223.9V233.9" stroke="#f0433a"/><path d="M344.59 233.8V234.8" stroke="#22a295"/><path d="M345.70 233.8V235.2" stroke="#f0433a"/><path d="M346.82 234.7V235.7M347.94 228.7V234.7M349.05 226.7V228.7" stroke="#22a295"/><path d="M350.17 226.7V228.9" stroke="#f0433a"/><path d="M351.29 218.5V228.9" stroke="#22a295"/><path d="M352.41 218.5V251.0M353.52 251.0V271.7M354.64 271.7V276.2" stroke="#f0433a"/><path d="M355.76 262.8V276.2M356.87 258.9V262.8" stroke="#22a295"/><path d="M357.99 258.9V259.9M359.11 259.4V262.7M360.22 262.7V266.0" stroke="#f0433a"/><path d="M361.34 260.9V266.0M362.46 255.6V260.9M363.57 251.4V255.6M364.69 247.1V251.4M365.81 233.4V247.1" stroke="#22a295"/><path d="M366.93 233.4V242.2" stroke="#f0433a"/><path d="M368.04 241.7V242.7M369.16 237.1V241.7" stroke="#22a295"/><path d="M370.28 237.1V240.2" stroke="#f0433a"/><path d="M371.39 238.7V240.2" stroke="#22a295"/><path d="M372.51 238.7V241.8" stroke="#f0433a"/><path d="M373.63 231.7V241.8M374.75 231.5V232.5" stroke="#22a295"/><path d="M375.86 231.5V242.3" stroke="#f0433a"/><path d="M376.98 241.7V242.7M378.10 233.3V241.7" stroke="#22a295"/><path d="M379.21 233.3V235.2M380.33 235.2V255.7M381.45 255.7V273.9M382.56 273.9V280.2" stroke="#f0433a"/><path d="M383.68 276.5V280.2M384.80 273.4V276.5" stroke="#22a295"/><path d="M385.92 273.4V274.4" stroke="#f0433a"/><path d="M387.03 269.3V274.4M388.15 268.6V269.6M389.27 267.8V268.8M390.38 264.5V267.8" stroke="#22a295"/><path d="M391.50 264.5V270.4M392.62 270.4V274.9" stroke="#f0433a"/><path d="M393.73 259.0V274.9M394.85 253.9V259.0M395.97 249.5V253.9M397.09 249.2V250.2M398.20 247.2V249.2" stroke="#22a295"/><path d="M399.32 247.2V248.2M400.44 248.2V252.3M401.55 252.3V253.3" stroke="#f0433a"/><path d="M402.67 248.9V252.8M403.79 247.7V248.9" stroke="#22a295"/><path d="M404.90 247.7V255.8" stroke="#f0433a"/><path d="M406.02 242.2V255.8M407.14 234.2V242.2M408.25 228.3V234.2" stroke="#22a295"/><path d="M409.37 228.3V233.5M410.49 233.5V235.3M411.61 235.3V241.6" stroke="#f0433a"/><path d="M412.72 239.5V241.6" stroke="#22a295"/><path d="M413.84 239.5V240.8" stroke="#f0433a"/><path d="M414.96 238.6V240.8" stroke="#22a295"/><path d="M416.07 238.6V240.8M417.19 240.8V241.9M418.31 241.9V254.4M419.43 254.4V255.7" stroke="#f0433a"/><path d="M420.54 246.9V255.7M421.66 242.5V246.9M422.78 242.5V243.5" stroke="#22a295"/><path d="M423.89 242.5V243.6M425.01 243.6V244.6" stroke="#f0433a"/><path d="M426.13 242.4V243.8" stroke="#22a295"/><path d="M427.24 242.4V248.0" stroke="#f0433a"/><path d="M428.36 247.2V248.2M429.48 240.8V247.2" stroke="#22a295"/><path d="M430.60 240.8V246.9M431.71 246.9V252.4" stroke="#f0433a"/><path d="M432.83 241.9V252.4M433.95 240.1V241.9" stroke="#22a295"/><path d="M435.06 240.1V254.7M436.18 254.7V264.5M437.30 264.5V266.3M438.41 266.3V267.3M439.53 266.3V268.2" stroke="#f0433a"/><path d="M440.65 266.7V268.2M441.76 265.4V266.7M442.88 262.9V265.4M444.00 255.8V262.9M445.12 252.3V255.8" stroke="#22a295"/><path d="M446.23 252.3V254.2M447.35 254.2V257.3M448.47 257.3V267.7" stroke="#f0433a"/><path d="M449.58 261.0V267.7M450.70 259.4V261.0M451.82 254.5V259.4M452.94 254.2V255.2M454.05 250.4V254.2M455.17 249.0V250.4M456.29 248.6V249.6M457.40 235.5V248.6M458.52 234.5V235.5" stroke="#22a295"/><path d="M459.64 234.5V237.4" stroke="#f0433a"/><path d="M460.75 228.5V237.4" stroke="#22a295"/><path d="M461.87 228.5V232.7M462.99 232.7V238.7M464.11 238.7V241.1M465.22 241.1V244.2" stroke="#f0433a"/><path d="M466.34 242.8V244.2M467.46 237.5V242.8M468.57 237.3V238.3" stroke="#22a295"/><path d="M469.69 237.3V238.7M470.81 238.7V251.4" stroke="#f0433a"/><path d="M471.92 251.0V252.0M473.04 232.5V251.0M474.16 224.0V232.5M475.28 206.9V224.0M476.39 203.1V206.9M477.51 201.9V203.1M478.63 199.8V201.9" stroke="#22a295"/><path d="M479.74 199.8V203.1M480.86 203.1V207.0" stroke="#f0433a"/><path d="M481.98 203.0V207.0M483.09 201.4V203.0M484.21 191.3V201.4M485.33 184.2V191.3M486.44 181.3V184.2M487.56 165.9V181.3" stroke="#22a295"/><path d="M488.68 165.9V199.7" stroke="#f0433a"/><path d="M489.80 196.3V199.7" stroke="#22a295"/><path d="M490.91 196.3V197.3" stroke="#f0433a"/><path d="M492.03 194.7V196.9" stroke="#22a295"/><path d="M493.15 194.7V198.1" stroke="#f0433a"/><path d="M494.26 196.5V198.1M495.38 194.7V196.5" stroke="#22a295"/><path d="M496.50 194.7V197.2" stroke="#f0433a"/><path d="M497.62 193.6V197.2M498.73 192.9V193.9" stroke="#22a295"/><path d="M499.85 192.9V201.8M500.97 201.8V232.5M502.08 232.5V240.4M503.20 240.4V246.0" stroke="#f0433a"/><path d="M504.32 237.5V246.0M505.43 235.2V237.5" stroke="#22a295"/><path d="M506.55 235.2V239.7M507.67 239.7V241.0" stroke="#f0433a"/><path d="M508.79 238.7V241.0M509.90 236.4V238.7M511.02 232.2V236.4" stroke="#22a295"/><path d="M512.14 232.2V233.9M513.25 233.9V240.9M514.37 240.9V259.5" stroke="#f0433a"/><path d="M515.49 242.4V259.5" stroke="#22a295"/><path d="M516.60 242.4V246.0M517.72 246.0V254.4" stroke="#f0433a"/><path d="M518.84 253.9V254.9" stroke="#22a295"/><path d="M519.95 253.9V256.3" stroke="#f0433a"/><path d="M521.07 252.7V256.3" stroke="#22a295"/><path d="M522.19 252.7V253.7M523.31 253.3V255.3" stroke="#f0433a"/><path d="M524.42 249.0V255.3M525.54 245.4V249.0M526.66 240.8V245.4M527.77 233.9V240.8M528.89 233.4V234.4M530.01 230.2V233.4M531.12 227.2V230.2" stroke="#22a295"/><path d="M532.24 227.2V229.0M533.36 229.0V232.1" stroke="#f0433a"/><path d="M534.48 218.2V232.1M535.59 215.0V218.2" stroke="#22a295"/><path d="M536.71 215.0V216.0" stroke="#f0433a"/><path d="M537.83 213.4V215.3M538.94 196.2V213.4M540.06 182.2V196.2M541.18 174.1V182.2M542.29 172.1V174.1" stroke="#22a295"/><path d="M543.41 172.1V175.9" stroke="#f0433a"/><path d="M544.53 171.2V175.9M545.65 170.8V171.8M546.76 169.5V170.8" stroke="#22a295"/><path d="M547.88 169.5V172.1M549.00 172.1V174.3M550.11 174.3V179.0" stroke="#f0433a"/><path d="M551.23 177.2V179.0M552.35 172.7V177.2" stroke="#22a295"/><path d="M553.46 172.7V177.8" stroke="#f0433a"/><path d="M554.58 177.0V178.0M555.70 174.2V177.0" stroke="#22a295"/><path d="M556.82 174.2V182.4" stroke="#f0433a"/><path d="M557.93 172.2V182.4M559.05 165.6V172.2" stroke="#22a295"/><path d="M560.17 165.6V166.6M561.28 166.4V171.1" stroke="#f0433a"/><path d="M562.40 168.6V171.1" stroke="#22a295"/><path d="M563.52 168.6V172.2" stroke="#f0433a"/><path d="M564.63 169.3V172.2" stroke="#22a295"/><path d="M565.75 169.3V170.8M566.87 170.8V171.8M567.99 171.1V179.5" stroke="#f0433a"/><path d="M569.10 179.4V180.4" stroke="#22a295"/><path d="M570.22 179.4V183.0" stroke="#f0433a"/><path d="M571.34 181.6V183.0M572.45 180.8V181.8" stroke="#22a295"/><path d="M573.57 180.8V188.3M574.69 188.3V192.0M575.80 192.0V193.1M576.92 193.1V194.5" stroke="#f0433a"/><path d="M578.04 190.0V194.5" stroke="#22a295"/><path d="M579.16 190.0V196.8M580.27 196.8V198.2M581.39 198.2V222.0M582.51 222.0V259.9M583.62 259.9V264.3M584.74 264.3V270.3" stroke="#f0433a"/><path d="M585.86 266.2V270.3M586.97 262.9V266.2M588.09 259.1V262.9M589.21 258.1V259.1" stroke="#22a295"/><path d="M590.33 258.1V262.8" stroke="#f0433a"/><path d="M591.44 258.2V262.8M592.56 253.1V258.2M593.68 250.9V253.1" stroke="#22a295"/><path d="M594.79 250.9V259.9" stroke="#f0433a"/><path d="M595.91 250.8V259.9M597.03 242.5V250.8" stroke="#22a295"/><path d="M598.14 242.5V244.5" stroke="#f0433a"/><path d="M599.26 244.5V245.5" stroke="#22a295"/><path d="M600.38 244.5V245.7" stroke="#f0433a"/><path d="M601.50 244.3V245.7M602.61 242.3V244.3M603.73 241.6V242.6" stroke="#22a295"/><path d="M604.85 241.6V252.6M605.96 252.6V257.6M607.08 257.6V266.1M608.20 266.1V279.8M609.31 279.8V315.3M610.43 315.3V335.9" stroke="#f0433a"/><path d="M611.55 321.1V335.9M612.67 317.1V321.1" stroke="#22a295"/><path d="M613.78 317.1V319.2M614.90 319.2V322.8" stroke="#f0433a"/><path d="M616.02 317.9V322.8M617.13 315.3V317.9M618.25 310.7V315.3" stroke="#22a295"/><path d="M619.37 310.7V325.6M620.48 325.6V331.3M621.60 331.3V341.4" stroke="#f0433a"/><path d="M622.72 327.7V341.4" stroke="#22a295"/><path d="M623.84 327.7V339.5M624.95 339.5V345.7M626.07 345.7V350.2" stroke="#f0433a"/><path d="M627.19 343.1V350.2M628.30 340.0V343.1M629.42 339.7V340.7M630.54 336.5V339.7M631.65 335.2V336.5M632.77 329.0V335.2" stroke="#22a295"/><path d="M633.89 329.0V334.9M635.01 334.9V338.9M636.12 338.9V386.1" stroke="#f0433a"/><path d="M637.24 360.2V386.1M638.36 359.4V360.4" stroke="#22a295"/><path d="M639.47 359.4V363.9M640.59 363.9V365.8" stroke="#f0433a"/><path d="M641.71 361.8V365.8" stroke="#22a295"/><path d="M642.82 361.8V364.6" stroke="#f0433a"/><path d="M643.94 364.1V365.1" stroke="#22a295"/><path d="M645.06 364.1V374.0" stroke="#f0433a"/><path d="M646.18 365.3V374.0" stroke="#22a295"/><path d="M647.29 365.3V370.2M648.41 370.2V375.9M649.53 375.9V377.4" stroke="#f0433a"/><path d="M650.64 363.4V377.4M651.76 351.8V363.4" stroke="#22a295"/><path d="M652.88 351.8V354.2" stroke="#f0433a"/><path d="M654.00 353.0V354.2" stroke="#22a295"/><path d="M655.11 353.0V360.5" stroke="#f0433a"/><path d="M656.23 353.2V360.5M657.35 351.8V353.2M658.46 346.6V351.8M659.58 331.4V346.6M660.70 329.4V331.4" stroke="#22a295"/><path d="M661.81 329.4V339.8" stroke="#f0433a"/><path d="M662.93 336.2V339.8M664.05 330.9V336.2" stroke="#22a295"/><path d="M665.16 330.9V344.4" stroke="#f0433a"/><path d="M666.28 335.8V344.4" stroke="#22a295"/><path d="M667.40 335.8V337.4M668.52 337.4V341.1" stroke="#f0433a"/><path d="M669.63 332.9V341.1M670.75 327.2V332.9M671.87 322.4V327.2M672.98 318.1V322.4M674.10 317.3V318.3" stroke="#22a295"/><path d="M675.22 317.3V324.5" stroke="#f0433a"/><path d="M676.33 315.3V324.5M677.45 306.8V315.3" stroke="#22a295"/><path d="M678.57 306.8V310.6M679.69 310.6V313.0M680.80 313.0V316.9M681.92 316.9V323.8M683.04 323.8V325.5M684.15 325.5V334.4" stroke="#f0433a"/><path d="M685.27 333.2V334.4" stroke="#22a295"/><path d="M686.39 333.2V335.9" stroke="#f0433a"/><path d="M687.50 327.5V335.9M688.62 323.8V327.5M689.74 320.5V323.8" stroke="#22a295"/><path d="M690.86 320.5V322.5M691.97 322.5V324.9M693.09 324.9V327.7" stroke="#f0433a"/><path d="M694.21 318.8V327.7" stroke="#22a295"/><path d="M695.32 318.8V327.7M696.44 327.7V329.3" stroke="#f0433a"/><path d="M697.56 328.4V329.4" stroke="#22a295"/><path d="M698.67 328.4V334.2M699.79 334.2V353.7" stroke="#f0433a"/><path d="M700.91 347.5V353.7M702.03 346.3V347.5M703.14 311.9V346.3M704.26 308.4V311.9" stroke="#22a295"/><path d="M705.38 308.4V310.6" stroke="#f0433a"/><path d="M706.49 309.1V310.6" stroke="#22a295"/><path d="M707.61 309.1V310.7M708.73 310.7V312.4M709.84 312.4V313.8M710.96 313.8V314.8" stroke="#f0433a"/><path d="M712.08 310.3V314.4" stroke="#22a295"/><path d="M713.20 310.3V327.2" stroke="#f0433a"/><path d="M714.31 324.3V327.2M715.43 313.9V324.3M716.55 310.5V313.9M717.66 301.7V310.5M718.78 300.3V301.7" stroke="#22a295"/><path d="M719.90 300.3V307.0" stroke="#f0433a"/><path d="M721.01 301.5V307.0" stroke="#22a295"/><path d="M722.13 301.5V302.5" stroke="#f0433a"/><path d="M723.25 300.3V302.2M724.37 297.9V300.3M725.48 288.6V297.9" stroke="#22a295"/><path d="M726.60 288.6V296.4M727.72 296.4V300.5M728.83 300.5V310.1M729.95 310.1V315.6" stroke="#f0433a"/><path d="M731.07 312.9V315.6M732.18 310.4V312.9M733.30 308.5V310.4M734.42 298.1V308.5" stroke="#22a295"/></g>
<path d="M0.0 150.4L1.5 150.0L3.0 149.6L4.5 149.4L6.0 149.0L7.5 148.7L9.0 148.6L10.5 148.6L12.0 148.8L13.5 149.1L15.0 149.4L16.5 149.8L18.0 150.1L19.5 150.5L21.0 150.9L22.5 151.3L24.0 151.7L25.5 152.2L27.0 152.6L28.5 153.0L30.0 153.4L31.5 154.0L33.0 154.6L34.5 155.3L36.0 156.1L37.5 156.9L39.0 157.9L40.5 159.0L42.0 160.0L43.5 161.1L45.0 162.1L46.5 163.2L48.0 164.2L49.5 165.2L51.0 166.1L52.5 167.1L54.0 168.0L55.5 168.8L57.0 169.7L58.5 170.5L60.0 171.3L61.5 172.2L63.0 173.0L64.5 173.8L66.0 174.6L67.5 175.3L69.0 175.9L70.5 176.5L72.0 177.1L73.5 177.6L75.0 178.1L76.5 178.5L78.0 179.0L79.5 179.5L81.0 179.9L82.5 180.4L84.0 180.9L85.5 181.3L87.0 181.8L88.5 182.2L90.0 182.7L91.5 183.1L93.0 183.5L94.5 183.9L96.0 184.3L97.5 184.6L99.0 184.9L100.5 185.3L102.0 185.6L103.5 185.9L105.0 186.2L106.5 186.5L108.0 186.8L109.5 187.1L111.0 187.4L112.5 187.7L114.0 188.0L115.5 188.3L117.0 188.7L118.5 189.0L120.0 189.3L121.5 189.6L123.0 189.9L124.5 190.2L126.0 190.5L127.5 190.8L129.0 191.1L130.5 191.4L132.0 191.8L133.5 192.1L135.0 192.4L136.5 192.7L138.0 193.0L139.5 193.3L141.0 193.6L142.5 193.9L144.0 194.2L145.5 194.4L147.0 194.6L148.5 194.6L150.0 194.7L151.5 194.6L153.0 194.5L154.5 194.2L156.0 193.9L157.5 193.5L159.0 193.1L160.5 192.5L162.0 191.9L163.5 191.2L165.0 190.6L166.5 189.9L168.0 189.2L169.5 188.6L171.0 187.9L172.5 187.2L174.0 186.4L175.5 185.7L177.0 185.0L178.5 184.2L180.0 183.5L181.5 182.7L183.0 182.0L184.5 181.2L186.0 180.5L187.5 179.7L189.0 179.0L190.5 178.5L192.0 178.0L193.5 177.8L195.0 177.6L196.5 177.6L198.0 177.7L199.5 177.9L201.0 178.1L202.5 178.3L204.0 178.5L205.5 178.7L207.0 178.8L208.5 179.0L210.0 179.2L211.5 179.5L213.0 179.8L214.5 180.2L216.0 180.7L217.5 181.2L219.0 181.7L220.5 182.3L222.0 182.9L223.5 183.5L225.0 184.1L226.5 184.9L228.0 185.8L229.5 186.8L231.0 187.9L232.5 189.2L234.0 190.6L235.5 192.1L237.0 193.6L238.5 195.1L240.0 196.5L241.5 197.9L243.0 199.3L244.5 200.7L246.0 202.0L247.5 203.3L249.0 204.5L250.5 205.6L252.0 206.6L253.5 207.6L255.0 208.5L256.5 209.3L258.0 209.9L259.5 210.5L261.0 210.9L262.5 211.2L264.0 211.3L265.5 211.4L267.0 211.3L268.5 211.3L270.0 211.2L271.5 211.0L273.0 210.9L274.5 210.7L276.0 210.5L277.5 210.3L279.0 210.0L280.5 209.8L282.0 209.6L283.5 209.4L285.0 209.2L286.5 209.0L288.0 208.8L289.5 208.7L291.0 208.5L292.5 208.4L294.0 208.3L295.5 208.3L297.0 208.3L298.5 208.5L300.0 208.6L301.5 208.9L303.0 209.1L304.5 209.4L306.0 209.6L307.5 209.7L309.0 209.8L310.5 209.9L312.0 209.9L313.5 209.8L315.0 209.8L316.5 209.6L318.0 209.5L319.5 209.3L321.0 209.2L322.5 208.9L324.0 208.7L325.5 208.4L327.0 208.2L328.5 207.9L330.0 207.7L331.5 207.4L333.0 207.1L334.5 206.9L336.0 206.6L337.5 206.4L339.0 206.4L340.5 206.4L342.0 206.5L343.5 206.7L345.0 207.1L346.5 207.5L348.0 208.0L349.5 208.5L351.0 209.1L352.5 209.7L354.0 210.4L355.5 211.1L357.0 211.8L358.5 212.4L360.0 213.0L361.5 213.6L363.0 214.1L364.5 214.6L366.0 214.9L367.5 215.3L369.0 215.6L370.5 215.9L372.0 216.3L373.5 216.6L375.0 217.0L376.5 217.3L378.0 217.8L379.5 218.3L381.0 218.8L382.5 219.4L384.0 220.0L385.5 220.7L387.0 221.3L388.5 222.0L390.0 222.6L391.5 223.1L393.0 223.6L394.5 224.1L396.0 224.5L397.5 224.9L399.0 225.3L400.5 225.6L402.0 226.0L403.5 226.3L405.0 226.6L406.5 227.0L408.0 227.3L409.5 227.6L411.0 227.8L412.5 228.1L414.0 228.3L415.5 228.5L417.0 228.6L418.5 228.8L420.0 229.0L421.5 229.2L423.0 229.4L424.5 229.5L426.0 229.7L427.5 229.9L429.0 230.1L430.5 230.3L432.0 230.5L433.5 230.8L435.0 231.1L436.5 231.4L438.0 231.7L439.5 232.1L441.0 232.4L442.5 232.8L444.0 233.2L445.5 233.6L447.0 234.0L448.5 234.4L450.0 234.7L451.5 235.0L453.0 235.3L454.5 235.5L456.0 235.6L457.5 235.7L459.0 235.8L460.5 236.0L462.0 236.1L463.5 236.2L465.0 236.2L466.5 236.2L468.0 236.2L469.5 236.1L471.0 236.0L472.5 235.8L474.0 235.6L475.5 235.3L477.0 235.0L478.5 234.7L480.0 234.3L481.5 233.9L483.0 233.5L484.5 233.1L486.0 232.6L487.5 232.2L489.0 231.8L490.5 231.3L492.0 230.9L493.5 230.4L495.0 230.0L496.5 229.6L498.0 229.4L499.5 229.2L501.0 229.1L502.5 229.0L504.0 229.1L505.5 229.3L507.0 229.4L508.5 229.6L510.0 229.8L511.5 230.0L513.0 230.3L514.5 230.5L516.0 230.8L517.5 231.0L519.0 231.3L520.5 231.6L522.0 231.9L523.5 232.0L525.0 232.2L526.5 232.2L528.0 232.2L529.5 232.2L531.0 232.1L532.5 231.9L534.0 231.6L535.5 231.3L537.0 230.9L538.5 230.4L540.0 229.8L541.5 229.1L543.0 228.5L544.5 227.8L546.0 227.1L547.5 226.4L549.0 225.8L550.5 225.1L552.0 224.5L553.5 223.8L555.0 223.2L556.5 222.6L558.0 222.0L559.5 221.4L561.0 220.8L562.5 220.2L564.0 219.6L565.5 219.0L567.0 218.4L568.5 217.9L570.0 217.4L571.5 217.0L573.0 216.6L574.5 216.2L576.0 215.9L577.5 215.8L579.0 215.7L580.5 215.9L582.0 216.1L583.5 216.5L585.0 216.9L586.5 217.5L588.0 218.1L589.5 218.6L591.0 219.2L592.5 219.7L594.0 220.2L595.5 220.7L597.0 221.2L598.5 221.6L600.0 222.1L601.5 222.6L603.0 223.1L604.5 223.8L606.0 224.5L607.5 225.4L609.0 226.4L610.5 227.5L612.0 228.7L613.5 230.0L615.0 231.2L616.5 232.5L618.0 233.7L619.5 235.0L621.0 236.3L622.5 237.6L624.0 238.9L625.5 240.3L627.0 241.7L628.5 243.1L630.0 244.5L631.5 245.9L633.0 247.3L634.5 248.7L636.0 250.2L637.5 251.7L639.0 253.1L640.5 254.6L642.0 256.1L643.5 257.6L645.0 259.0L646.5 260.4L648.0 261.8L649.5 263.2L651.0 264.6L652.5 265.8L654.0 267.0L655.5 268.1L657.0 269.1L658.5 270.0L660.0 270.9L661.5 271.7L663.0 272.5L664.5 273.3L666.0 274.1L667.5 274.8L669.0 275.6L670.5 276.4L672.0 277.2L673.5 277.9L675.0 278.7L676.5 279.4L678.0 280.1L679.5 280.8L681.0 281.5L682.5 282.2L684.0 282.9L685.5 283.6L687.0 284.3L688.5 284.9L690.0 285.5L691.5 286.1L693.0 286.6L694.5 287.2L696.0 287.7L697.5 288.2L699.0 288.7L700.5 289.1L702.0 289.6L703.5 290.0L705.0 290.3L706.5 290.7L708.0 291.0L709.5 291.2L711.0 291.5L712.5 291.8L714.0 292.0L715.5 292.3L717.0 292.4L718.5 292.6L720.0 292.7L721.5 292.8L723.0 292.9L724.5 293.0L726.0 293.2L727.5 293.3L729.0 293.5L730.5 293.6L732.0 293.7L733.5 293.8" stroke="#f0607a" stroke-width="0.9" fill="none" stroke-linejoin="round"/>
<path d="M0 410.2L681.8 206" stroke="#50535b" stroke-width="1.0" fill="none"/>
<path d="M580 278.3H896.5" stroke="#4040f2" stroke-width="0.95" fill="none"/>
<path d="M740.8 283.7L760.5 398" stroke="#f5564a" stroke-width="0.7" fill="none"/>
<path d="M757.8 393.8L760.5 398.3L762.0 393.1" stroke="#f5564a" stroke-width="0.7" fill="none"/>
<path d="M20.66 454.0V453.65M21.77 454.0V453.65M25.12 454.0V453.17M26.24 454.0V452.40M27.36 454.0V451.63M28.48 454.0V451.11M29.59 454.0V450.59M30.71 454.0V450.07M31.83 454.0V449.67M45.23 454.0V452.81M46.35 454.0V451.59M53.05 454.0V452.74M54.17 454.0V452.21M55.28 454.0V451.85M58.63 454.0V451.85M61.98 454.0V451.85M64.22 454.0V451.85M65.34 454.0V451.80M66.45 454.0V451.17M67.57 454.0V450.54M68.69 454.0V449.92M69.80 454.0V449.60M70.92 454.0V448.44M72.04 454.0V447.27M73.16 454.0V446.83M83.21 454.0V452.98M84.33 454.0V451.86M93.26 454.0V453.01M94.38 454.0V452.57M97.73 454.0V452.57M111.13 454.0V453.65M112.25 454.0V453.65M113.37 454.0V453.35M114.48 454.0V453.26M124.54 454.0V453.65M125.65 454.0V453.32M126.77 454.0V452.66M127.89 454.0V451.15M142.41 454.0V453.65M143.53 454.0V453.21M144.64 454.0V452.74M145.76 454.0V452.28M146.88 454.0V452.11M154.70 454.0V452.42M155.81 454.0V451.16M156.93 454.0V450.06M158.05 454.0V449.94M159.16 454.0V449.83M160.28 454.0V449.71M181.50 454.0V453.55M182.62 454.0V452.85M183.74 454.0V452.16M209.43 454.0V453.34M210.55 454.0V452.93M213.90 454.0V452.81M227.30 454.0V453.65M228.42 454.0V453.51M246.29 454.0V453.65M247.41 454.0V450.96M248.52 454.0V448.05M249.64 454.0V447.33M250.76 454.0V447.05M251.88 454.0V446.77M257.46 454.0V447.71M258.58 454.0V447.56M260.81 454.0V446.68M261.93 454.0V445.63M263.05 454.0V444.59M274.22 454.0V453.16M275.33 454.0V452.93M311.08 454.0V451.01M312.19 454.0V449.81M313.31 454.0V448.76M314.43 454.0V447.72M349.05 454.0V453.65M350.17 454.0V453.65M360.22 454.0V453.27M361.34 454.0V451.97M362.46 454.0V450.67M363.57 454.0V449.14M364.69 454.0V448.44M365.81 454.0V447.74M391.50 454.0V453.65M392.62 454.0V453.09M393.73 454.0V452.49M394.85 454.0V452.41M395.97 454.0V452.27M397.09 454.0V452.13M398.20 454.0V451.99M399.32 454.0V451.80M406.02 454.0V452.15M407.14 454.0V451.64M408.25 454.0V451.13M409.37 454.0V451.01M447.35 454.0V453.65M448.47 454.0V453.30M449.58 454.0V452.93M450.70 454.0V452.86M451.82 454.0V452.76M452.94 454.0V452.65M454.05 454.0V452.55M455.17 454.0V452.44M456.29 454.0V452.34M457.40 454.0V452.17M458.52 454.0V451.92M459.64 454.0V451.68M465.22 454.0V453.14M466.34 454.0V453.13M474.16 454.0V453.65M475.28 454.0V452.62M476.39 454.0V451.51M477.51 454.0V451.32M478.63 454.0V451.32M481.98 454.0V451.22M483.09 454.0V451.12M484.21 454.0V451.02M485.33 454.0V450.92M486.44 454.0V450.82M521.07 454.0V453.65M522.19 454.0V453.37M523.31 454.0V452.96M524.42 454.0V452.25M525.54 454.0V451.75M526.66 454.0V451.39M527.77 454.0V451.02M528.89 454.0V450.65M530.01 454.0V450.50M531.12 454.0V450.42M533.36 454.0V450.42M534.48 454.0V450.28M535.59 454.0V449.81M536.71 454.0V449.71M538.94 454.0V449.38M540.06 454.0V448.68M541.18 454.0V447.94M542.29 454.0V447.57M592.56 454.0V452.88M593.68 454.0V452.18M594.79 454.0V451.49M595.91 454.0V450.79M597.03 454.0V450.60M601.50 454.0V451.57M602.61 454.0V451.36M624.95 454.0V453.55M626.07 454.0V453.00M627.19 454.0V452.45M628.30 454.0V451.90M629.42 454.0V450.57M630.54 454.0V449.29M631.65 454.0V448.10M642.82 454.0V453.65M648.41 454.0V453.31M649.53 454.0V452.65M650.64 454.0V452.41M651.76 454.0V452.28M652.88 454.0V452.11M654.00 454.0V451.94M655.11 454.0V451.78M656.23 454.0V451.61M657.35 454.0V451.59M668.52 454.0V453.42M669.63 454.0V453.15M670.75 454.0V452.88M671.87 454.0V452.60M672.98 454.0V452.33M674.10 454.0V452.17M676.33 454.0V452.36M677.45 454.0V452.27M678.57 454.0V452.17M703.14 454.0V453.38M704.26 454.0V452.30M705.38 454.0V451.99M715.43 454.0V453.65M716.55 454.0V453.26M717.66 454.0V453.06M718.78 454.0V453.03M723.25 454.0V453.12" stroke="#26a69a" stroke-width="1.15" fill="none"/><path d="M22.89 454.0V453.65M24.01 454.0V453.65M32.94 454.0V451.31M34.06 454.0V452.95M35.18 454.0V453.65M47.46 454.0V451.76M48.58 454.0V452.09M49.70 454.0V452.62M50.81 454.0V453.14M51.93 454.0V453.26M56.40 454.0V451.85M57.52 454.0V451.85M59.75 454.0V451.85M60.87 454.0V451.85M63.10 454.0V451.85M74.27 454.0V449.31M75.39 454.0V450.99M76.51 454.0V452.64M85.44 454.0V452.45M95.49 454.0V452.57M96.61 454.0V452.57M98.85 454.0V452.73M99.96 454.0V453.65M115.60 454.0V453.26M116.72 454.0V453.35M117.83 454.0V453.45M118.95 454.0V453.64M120.07 454.0V453.65M129.01 454.0V452.64M147.99 454.0V452.16M149.11 454.0V452.59M150.23 454.0V453.00M151.34 454.0V453.35M152.46 454.0V453.65M153.58 454.0V453.65M161.40 454.0V450.17M162.52 454.0V450.63M163.63 454.0V451.10M164.75 454.0V451.56M165.87 454.0V451.86M166.98 454.0V451.88M168.10 454.0V451.90M169.22 454.0V451.92M170.33 454.0V452.85M171.45 454.0V453.65M184.86 454.0V452.22M185.97 454.0V453.15M187.09 454.0V453.52M188.21 454.0V453.65M211.66 454.0V452.93M212.78 454.0V452.93M215.01 454.0V453.12M216.13 454.0V453.65M229.53 454.0V453.65M252.99 454.0V447.34M254.11 454.0V447.53M255.23 454.0V447.72M256.34 454.0V447.90M259.69 454.0V447.56M264.16 454.0V445.06M265.28 454.0V445.99M266.40 454.0V446.92M267.51 454.0V448.82M268.63 454.0V450.96M269.75 454.0V452.13M270.86 454.0V452.71M271.98 454.0V452.95M273.10 454.0V453.18M276.45 454.0V453.16M277.57 454.0V453.39M278.68 454.0V453.63M279.80 454.0V453.65M315.54 454.0V448.26M316.66 454.0V448.86M317.78 454.0V449.47M318.89 454.0V450.07M320.01 454.0V451.01M321.13 454.0V451.55M322.25 454.0V451.67M323.36 454.0V451.78M324.48 454.0V452.09M325.60 454.0V452.67M326.71 454.0V453.25M327.83 454.0V453.65M366.93 454.0V448.19M368.04 454.0V449.02M369.16 454.0V449.66M370.28 454.0V450.03M371.39 454.0V450.65M372.51 454.0V451.31M373.63 454.0V451.96M374.75 454.0V452.16M375.86 454.0V452.53M376.98 454.0V452.91M378.10 454.0V453.28M379.21 454.0V453.65M400.44 454.0V451.93M401.55 454.0V452.16M402.67 454.0V452.39M403.79 454.0V452.63M404.90 454.0V452.66M410.49 454.0V451.73M411.61 454.0V452.46M412.72 454.0V453.16M413.84 454.0V453.65M460.75 454.0V451.75M461.87 454.0V452.28M462.99 454.0V452.82M464.11 454.0V453.16M467.46 454.0V453.54M468.57 454.0V453.65M479.74 454.0V451.32M480.86 454.0V451.32M487.56 454.0V451.32M488.68 454.0V452.23M489.80 454.0V453.15M532.24 454.0V450.42M537.83 454.0V449.71M543.41 454.0V448.04M544.53 454.0V448.50M545.65 454.0V449.32M546.76 454.0V450.41M547.88 454.0V451.13M549.00 454.0V451.84M550.11 454.0V452.78M551.23 454.0V453.65M598.14 454.0V450.79M599.26 454.0V451.43M600.38 454.0V451.78M603.73 454.0V451.62M604.85 454.0V452.56M605.96 454.0V452.91M607.08 454.0V453.65M632.77 454.0V449.45M633.89 454.0V451.05M635.01 454.0V452.66M636.12 454.0V453.37M637.24 454.0V453.54M638.36 454.0V453.65M639.47 454.0V453.65M643.94 454.0V453.65M645.06 454.0V453.65M646.18 454.0V453.65M647.29 454.0V453.65M658.46 454.0V451.66M659.58 454.0V451.72M660.70 454.0V451.79M661.81 454.0V451.86M662.93 454.0V452.18M664.05 454.0V452.51M665.16 454.0V452.83M666.28 454.0V453.15M667.40 454.0V453.48M675.22 454.0V452.37M679.69 454.0V452.72M680.80 454.0V453.53M681.92 454.0V453.60M683.04 454.0V453.65M706.49 454.0V452.21M707.61 454.0V452.21M708.73 454.0V452.21M709.84 454.0V452.21M710.96 454.0V453.21M712.08 454.0V453.65M719.90 454.0V453.12M721.01 454.0V453.21M722.13 454.0V453.26M724.37 454.0V453.36M725.48 454.0V453.65" stroke="#b2dfdb" stroke-width="1.15" fill="none"/><path d="M0.55 454.0V455.42M1.67 454.0V456.11M2.78 454.0V456.81M3.90 454.0V458.68M5.02 454.0V460.81M6.13 454.0V462.21M7.25 454.0V463.00M8.37 454.0V463.05M9.49 454.0V463.40M36.29 454.0V454.41M37.41 454.0V455.05M38.53 454.0V455.69M39.64 454.0V456.33M40.76 454.0V456.97M77.62 454.0V454.35M78.74 454.0V454.96M79.86 454.0V455.52M80.97 454.0V455.57M86.56 454.0V455.42M87.68 454.0V457.27M88.79 454.0V457.74M89.91 454.0V458.20M101.08 454.0V454.39M102.20 454.0V454.99M103.31 454.0V455.50M104.43 454.0V455.73M105.55 454.0V455.79M107.78 454.0V455.79M121.19 454.0V454.35M122.30 454.0V454.35M123.42 454.0V454.51M130.12 454.0V454.35M131.24 454.0V455.66M132.36 454.0V455.77M133.47 454.0V456.14M134.59 454.0V456.52M135.71 454.0V456.77M172.57 454.0V454.71M173.69 454.0V455.53M174.80 454.0V455.95M175.92 454.0V456.17M177.04 454.0V456.31M178.15 454.0V456.45M189.32 454.0V454.35M190.44 454.0V455.59M191.56 454.0V456.63M193.79 454.0V458.77M194.91 454.0V461.75M196.03 454.0V463.25M199.38 454.0V461.92M217.25 454.0V454.75M218.37 454.0V455.57M219.48 454.0V456.38M230.65 454.0V454.69M231.77 454.0V455.62M232.89 454.0V456.55M234.00 454.0V457.48M235.12 454.0V458.41M236.24 454.0V458.84M280.92 454.0V454.35M282.03 454.0V454.35M283.15 454.0V454.56M284.27 454.0V454.79M285.38 454.0V455.02M286.50 454.0V455.71M287.62 454.0V456.53M288.74 454.0V457.34M295.44 454.0V456.40M296.56 454.0V456.44M299.91 454.0V457.06M301.02 454.0V458.18M302.14 454.0V459.23M328.95 454.0V454.35M330.06 454.0V454.35M334.53 454.0V454.35M335.65 454.0V454.35M336.77 454.0V454.50M337.88 454.0V454.74M339.00 454.0V455.65M340.12 454.0V457.94M341.24 454.0V458.79M342.35 454.0V459.10M344.59 454.0V459.08M351.29 454.0V455.79M352.41 454.0V457.61M353.52 454.0V458.28M354.64 454.0V458.62M355.76 454.0V458.95M380.33 454.0V455.10M381.45 454.0V456.36M382.56 454.0V457.46M383.68 454.0V457.67M384.80 454.0V457.78M414.96 454.0V454.35M416.07 454.0V454.35M417.19 454.0V454.35M418.31 454.0V454.41M419.43 454.0V454.64M420.54 454.0V454.84M421.66 454.0V454.99M432.83 454.0V454.42M433.95 454.0V454.85M437.30 454.0V454.79M438.41 454.0V455.14M439.53 454.0V455.69M440.65 454.0V455.81M469.69 454.0V454.37M470.81 454.0V454.87M471.92 454.0V455.76M490.91 454.0V454.35M492.03 454.0V454.68M493.15 454.0V455.09M494.26 454.0V455.19M495.38 454.0V455.29M496.50 454.0V455.41M497.62 454.0V455.65M498.73 454.0V455.89M502.08 454.0V456.08M503.20 454.0V457.20M504.32 454.0V458.17M508.79 454.0V456.60M513.25 454.0V455.93M552.35 454.0V454.49M553.46 454.0V455.00M554.58 454.0V455.51M561.28 454.0V454.92M562.40 454.0V454.96M563.52 454.0V454.99M565.75 454.0V455.03M566.87 454.0V455.20M567.99 454.0V455.38M569.10 454.0V455.55M570.22 454.0V455.71M575.80 454.0V455.68M576.92 454.0V456.10M580.27 454.0V456.91M581.39 454.0V459.12M582.51 454.0V461.34M583.62 454.0V462.46M584.74 454.0V462.58M585.86 454.0V462.70M608.20 454.0V456.38M609.31 454.0V458.19M610.43 454.0V459.70M613.78 454.0V458.73M640.59 454.0V454.35M684.15 454.0V454.35M685.27 454.0V455.10M686.39 454.0V455.96M687.50 454.0V456.89M694.21 454.0V454.35M695.32 454.0V454.47M696.44 454.0V454.61M697.56 454.0V454.74M698.67 454.0V455.13M699.79 454.0V455.52M700.91 454.0V455.92M713.20 454.0V454.39M714.31 454.0V454.66M726.60 454.0V454.35M727.72 454.0V454.58M728.83 454.0V454.91M729.95 454.0V455.23M731.07 454.0V455.56M733.30 454.0V455.48M734.42 454.0V455.50" stroke="#ef5350" stroke-width="1.15" fill="none"/><path d="M10.60 454.0V463.18M11.72 454.0V461.44M12.84 454.0V460.72M13.95 454.0V460.44M15.07 454.0V460.44M16.19 454.0V460.44M17.30 454.0V460.09M18.42 454.0V457.30M19.54 454.0V454.51M41.88 454.0V456.48M43.00 454.0V455.26M44.11 454.0V454.35M82.09 454.0V454.35M91.03 454.0V456.78M92.14 454.0V454.89M106.66 454.0V455.79M108.90 454.0V455.17M110.02 454.0V454.35M136.82 454.0V455.61M137.94 454.0V454.95M139.06 454.0V454.71M140.18 454.0V454.48M141.29 454.0V454.35M179.27 454.0V456.44M180.39 454.0V454.72M192.67 454.0V456.47M197.14 454.0V462.67M198.26 454.0V461.57M200.49 454.0V460.79M201.61 454.0V458.94M202.73 454.0V458.24M203.84 454.0V457.54M204.96 454.0V456.83M206.08 454.0V455.67M207.20 454.0V454.73M208.31 454.0V454.35M220.60 454.0V455.61M221.72 454.0V455.05M222.83 454.0V454.49M223.95 454.0V454.35M225.07 454.0V454.35M226.18 454.0V454.35M237.35 454.0V458.38M238.47 454.0V457.91M239.59 454.0V457.54M240.71 454.0V457.43M241.82 454.0V457.31M242.94 454.0V456.92M244.06 454.0V455.53M245.17 454.0V454.35M289.85 454.0V457.24M290.97 454.0V456.82M292.09 454.0V456.59M293.20 454.0V456.35M294.32 454.0V456.17M297.67 454.0V456.32M298.79 454.0V456.21M303.26 454.0V459.21M304.37 454.0V458.80M305.49 454.0V458.45M306.61 454.0V458.04M307.73 454.0V457.58M308.84 454.0V457.30M309.96 454.0V454.35M331.18 454.0V454.35M332.30 454.0V454.35M333.42 454.0V454.35M343.47 454.0V458.89M345.70 454.0V459.00M346.82 454.0V457.04M347.94 454.0V455.09M356.87 454.0V457.54M357.99 454.0V456.06M359.11 454.0V454.59M385.92 454.0V457.73M387.03 454.0V456.45M388.15 454.0V455.16M389.27 454.0V454.75M390.38 454.0V454.48M422.78 454.0V454.95M423.89 454.0V454.87M425.01 454.0V454.79M426.13 454.0V454.71M427.24 454.0V454.62M428.36 454.0V454.52M429.48 454.0V454.42M430.60 454.0V454.35M431.71 454.0V454.35M435.06 454.0V454.71M436.18 454.0V454.57M441.76 454.0V455.58M442.88 454.0V455.35M444.00 454.0V455.12M445.12 454.0V454.69M446.23 454.0V454.35M473.04 454.0V455.23M499.85 454.0V455.24M500.97 454.0V454.97M505.43 454.0V457.61M506.55 454.0V457.05M507.67 454.0V456.59M509.90 454.0V456.36M511.02 454.0V456.13M512.14 454.0V455.90M514.37 454.0V455.77M515.49 454.0V455.48M516.60 454.0V455.18M517.72 454.0V454.89M518.84 454.0V454.58M519.95 454.0V454.35M555.70 454.0V455.49M556.82 454.0V455.37M557.93 454.0V455.18M559.05 454.0V455.00M560.17 454.0V454.87M564.63 454.0V454.93M571.34 454.0V455.67M572.45 454.0V455.62M573.57 454.0V455.58M574.69 454.0V455.53M578.04 454.0V455.94M579.16 454.0V455.70M586.97 454.0V461.67M588.09 454.0V459.83M589.21 454.0V458.30M590.33 454.0V456.76M591.44 454.0V454.89M611.55 454.0V458.86M612.67 454.0V458.59M614.90 454.0V458.48M616.02 454.0V457.23M617.13 454.0V455.97M618.25 454.0V455.32M619.37 454.0V454.87M620.48 454.0V454.67M621.60 454.0V454.46M622.72 454.0V454.35M623.84 454.0V454.35M641.71 454.0V454.35M688.62 454.0V456.27M689.74 454.0V455.57M690.86 454.0V454.87M691.97 454.0V454.35M693.09 454.0V454.35M702.03 454.0V454.46M732.18 454.0V455.43" stroke="#ffcdd2" stroke-width="1.15" fill="none"/>
<path d="M0.0 446.2L1.0 447.0L2.0 448.5L3.0 450.3L4.0 452.9L5.0 456.1L6.0 459.5L7.0 462.6L8.0 465.2L9.0 467.4L10.0 469.3L11.0 470.7L12.0 471.6L13.0 472.4L14.0 473.2L15.0 474.2L16.0 475.2L17.0 475.4L18.0 474.5L19.0 472.9L20.0 471.7L21.0 471.1L22.0 471.0L23.0 470.9L24.0 470.7L25.0 470.2L26.0 469.4L27.0 468.7L28.0 468.0L29.0 467.3L30.0 466.5L31.0 465.9L32.0 465.8L33.0 466.2L34.0 467.0L35.0 467.8L36.0 468.6L37.0 469.4L38.0 470.3L39.0 471.1L40.0 471.9L41.0 472.3L42.0 472.0L43.0 471.1L44.0 470.1L45.0 469.1L46.0 468.3L47.0 467.9L48.0 467.8L49.0 467.8L50.0 467.8L51.0 467.6L52.0 467.3L53.0 466.6L54.0 465.9L55.0 465.1L56.0 464.4L57.0 463.6L58.0 462.9L59.0 462.1L60.0 461.4L61.0 460.6L62.0 459.9L63.0 459.1L64.0 458.4L65.0 457.5L66.0 456.5L67.0 455.4L68.0 454.2L69.0 452.8L70.0 451.2L71.0 449.4L72.0 447.4L73.0 446.5L74.0 446.5L75.0 447.5L76.0 448.4L77.0 449.3L78.0 450.2L79.0 451.0L80.0 451.6L81.0 451.8L82.0 451.5L83.0 450.9L84.0 450.4L85.0 450.7L86.0 452.1L87.0 454.3L88.0 456.2L89.0 457.7L90.0 458.1L91.0 457.5L92.0 455.9L93.0 454.4L94.0 453.3L95.0 452.7L96.0 452.4L97.0 452.0L98.0 451.8L99.0 451.9L100.0 452.2L101.0 452.8L102.0 453.4L103.0 453.9L104.0 454.4L105.0 454.7L106.0 455.0L107.0 455.4L108.0 455.5L109.0 455.4L110.0 455.1L111.0 454.8L112.0 454.5L113.0 454.2L114.0 453.9L115.0 453.8L116.0 453.6L117.0 453.4L118.0 453.3L119.0 453.2L120.0 453.2L121.0 453.2L122.0 453.2L123.0 453.1L124.0 452.8L125.0 452.3L126.0 451.7L127.0 451.2L128.0 451.5L129.0 452.5L130.0 454.3L131.0 455.8L132.0 456.9L133.0 457.6L134.0 458.2L135.0 458.7L136.0 458.8L137.0 458.5L138.0 458.0L139.0 457.5L140.0 457.0L141.0 456.4L142.0 455.8L143.0 455.1L144.0 454.5L145.0 453.8L146.0 453.2L147.0 452.7L148.0 452.3L149.0 451.9L150.0 451.5L151.0 451.2L152.0 451.0L153.0 450.5L154.0 449.6L155.0 448.3L156.0 446.8L157.0 445.6L158.0 444.6L159.0 443.9L160.0 443.2L161.0 442.8L162.0 442.6L163.0 442.4L164.0 442.3L165.0 442.1L166.0 441.8L167.0 441.5L168.0 441.2L169.0 441.0L170.0 441.2L171.0 441.8L172.0 442.7L173.0 443.6L174.0 444.4L175.0 445.1L176.0 445.6L177.0 446.1L178.0 446.6L179.0 446.7L180.0 446.4L181.0 445.7L182.0 444.8L183.0 444.0L184.0 443.4L185.0 443.2L186.0 443.4L187.0 443.8L188.0 444.1L189.0 444.6L190.0 445.4L191.0 446.5L192.0 447.8L193.0 449.9L194.0 452.7L195.0 456.2L196.0 459.2L197.0 461.6L198.0 463.4L199.0 464.8L200.0 465.6L201.0 465.8L202.0 465.7L203.0 465.5L204.0 465.3L205.0 465.1L206.0 464.7L207.0 464.2L208.0 463.7L209.0 463.2L210.0 462.8L211.0 462.6L212.0 462.6L213.0 462.6L214.0 462.8L215.0 463.2L216.0 464.0L217.0 464.8L218.0 465.6L219.0 466.3L220.0 466.5L221.0 466.3L222.0 465.9L223.0 465.5L224.0 465.3L225.0 465.2L226.0 465.2L227.0 465.2L228.0 465.2L229.0 465.5L230.0 466.2L231.0 467.2L232.0 468.3L233.0 469.6L234.0 471.0L235.0 472.5L236.0 473.6L237.0 474.4L238.0 474.9L239.0 475.4L240.0 476.1L241.0 476.8L242.0 477.4L243.0 477.4L244.0 476.8L245.0 475.8L246.0 474.1L247.0 471.7L248.0 468.6L249.0 465.8L250.0 463.5L251.0 461.5L252.0 459.7L253.0 458.2L254.0 457.0L255.0 455.8L256.0 454.5L257.0 453.1L258.0 451.7L259.0 450.2L260.0 448.4L261.0 446.3L262.0 444.1L263.0 442.2L264.0 441.0L265.0 440.3L266.0 439.9L267.0 439.8L268.0 440.1L269.0 440.6L270.0 440.9L271.0 441.0L272.0 440.9L273.0 440.7L274.0 440.5L275.0 440.4L276.0 440.4L277.0 440.6L278.0 440.7L279.0 440.9L280.0 441.1L281.0 441.5L282.0 441.9L283.0 442.4L284.0 442.9L285.0 443.5L286.0 444.4L287.0 445.5L288.0 446.7L289.0 447.7L290.0 448.3L291.0 448.7L292.0 449.0L293.0 449.3L294.0 449.8L295.0 450.3L296.0 450.9L297.0 451.6L298.0 452.3L299.0 453.1L300.0 454.3L301.0 456.0L302.0 457.9L303.0 459.3L304.0 460.3L305.0 461.0L306.0 461.7L307.0 462.4L308.0 462.7L309.0 462.1L310.0 460.6L311.0 458.7L312.0 456.9L313.0 455.1L314.0 453.5L315.0 452.4L316.0 451.8L317.0 451.4L318.0 451.0L319.0 450.7L320.0 450.4L321.0 450.2L322.0 450.1L323.0 449.9L324.0 449.9L325.0 449.9L326.0 450.1L327.0 450.2L328.0 450.4L329.0 450.5L330.0 450.5L331.0 450.5L332.0 450.4L333.0 450.3L334.0 450.4L335.0 450.5L336.0 450.7L337.0 451.0L338.0 451.5L339.0 452.4L340.0 453.9L341.0 455.6L342.0 457.2L343.0 458.6L344.0 459.9L345.0 460.9L346.0 461.3L347.0 461.2L348.0 460.8L349.0 460.5L350.0 460.9L351.0 462.1L352.0 463.6L353.0 464.8L354.0 465.8L355.0 466.6L356.0 467.0L357.0 466.9L358.0 466.5L359.0 465.9L360.0 465.0L361.0 463.8L362.0 462.6L363.0 461.2L364.0 459.8L365.0 458.3L366.0 457.1L367.0 456.3L368.0 455.8L369.0 455.4L370.0 455.1L371.0 454.8L372.0 454.6L373.0 454.4L374.0 454.2L375.0 454.1L376.0 454.0L377.0 454.0L378.0 454.0L379.0 454.6L380.0 455.6L381.0 457.1L382.0 458.4L383.0 459.5L384.0 460.4L385.0 461.1L386.0 461.5L387.0 461.5L388.0 461.3L389.0 461.1L390.0 460.8L391.0 460.4L392.0 459.8L393.0 459.2L394.0 458.6L395.0 457.9L396.0 457.3L397.0 456.6L398.0 455.9L399.0 455.3L400.0 454.8L401.0 454.4L402.0 454.1L403.0 453.7L404.0 453.4L405.0 452.8L406.0 452.2L407.0 451.4L408.0 450.6L409.0 450.1L410.0 450.0L411.0 450.2L412.0 450.5L413.0 450.7L414.0 450.9L415.0 451.1L416.0 451.3L417.0 451.6L418.0 451.9L419.0 452.2L420.0 452.5L421.0 452.9L422.0 453.1L423.0 453.4L424.0 453.5L425.0 453.7L426.0 453.9L427.0 454.0L428.0 454.0L429.0 454.0L430.0 454.0L431.0 454.0L432.0 454.1L433.0 454.4L434.0 454.8L435.0 455.2L436.0 455.6L437.0 456.2L438.0 456.9L439.0 457.6L440.0 458.1L441.0 458.3L442.0 458.3L443.0 458.3L444.0 458.2L445.0 457.9L446.0 457.4L447.0 456.9L448.0 456.4L449.0 456.0L450.0 455.6L451.0 455.3L452.0 454.8L453.0 454.3L454.0 453.8L455.0 453.3L456.0 452.8L457.0 452.3L458.0 451.8L459.0 451.3L460.0 450.9L461.0 450.7L462.0 450.7L463.0 450.8L464.0 450.8L465.0 450.9L466.0 451.0L467.0 451.2L468.0 451.6L469.0 451.9L470.0 452.3L471.0 452.7L472.0 452.7L473.0 452.2L474.0 451.2L475.0 450.0L476.0 448.8L477.0 448.0L478.0 447.3L479.0 446.8L480.0 446.3L481.0 445.8L482.0 445.3L483.0 444.8L484.0 444.3L485.0 443.8L486.0 443.4L487.0 443.3L488.0 443.7L489.0 444.5L490.0 445.3L491.0 446.1L492.0 446.7L493.0 447.2L494.0 447.7L495.0 448.2L496.0 448.7L497.0 449.3L498.0 449.9L499.0 450.5L500.0 451.2L501.0 452.5L502.0 454.2L503.0 456.2L504.0 457.7L505.0 458.8L506.0 459.5L507.0 460.1L508.0 460.6L509.0 461.1L510.0 461.4L511.0 461.8L512.0 462.1L513.0 462.4L514.0 462.5L515.0 462.5L516.0 462.5L517.0 462.4L518.0 462.3L519.0 462.0L520.0 461.7L521.0 461.3L522.0 460.8L523.0 460.4L524.0 459.8L525.0 459.1L526.0 458.2L527.0 457.4L528.0 456.6L529.0 455.8L530.0 455.1L531.0 454.4L532.0 453.7L533.0 453.1L534.0 452.3L535.0 451.4L536.0 450.4L537.0 449.4L538.0 448.3L539.0 447.1L540.0 445.6L541.0 444.2L542.0 443.1L543.0 442.3L544.0 441.8L545.0 441.5L546.0 441.4L547.0 441.6L548.0 441.9L549.0 442.2L550.0 442.7L551.0 443.2L552.0 443.8L553.0 444.4L554.0 445.0L555.0 445.4L556.0 445.7L557.0 445.8L558.0 446.0L559.0 446.2L560.0 446.4L561.0 446.7L562.0 447.0L563.0 447.4L564.0 447.7L565.0 448.1L566.0 448.5L567.0 449.0L568.0 449.5L569.0 450.0L570.0 450.6L571.0 451.2L572.0 451.8L573.0 452.5L574.0 453.2L575.0 453.9L576.0 454.7L577.0 455.7L578.0 456.7L579.0 457.9L580.0 459.7L581.0 462.1L582.0 464.9L583.0 467.2L584.0 468.9L585.0 470.2L586.0 471.1L587.0 471.5L588.0 471.1L589.0 470.5L590.0 469.9L591.0 469.2L592.0 468.3L593.0 467.3L594.0 466.3L595.0 465.3L596.0 464.4L597.0 463.7L598.0 463.0L599.0 462.4L600.0 461.7L601.0 461.0L602.0 460.3L603.0 459.7L604.0 459.6L605.0 460.0L606.0 460.6L607.0 461.8L608.0 463.7L609.0 466.2L610.0 468.3L611.0 469.7L612.0 470.5L613.0 471.1L614.0 471.6L615.0 471.7L616.0 471.5L617.0 471.1L618.0 470.7L619.0 470.4L620.0 470.2L621.0 470.1L622.0 470.0L623.0 469.9L624.0 469.6L625.0 469.2L626.0 468.5L627.0 467.8L628.0 467.0L629.0 466.0L630.0 464.8L631.0 463.7L632.0 463.3L633.0 463.5L634.0 464.3L635.0 464.8L636.0 465.1L637.0 465.2L638.0 465.2L639.0 465.2L640.0 465.2L641.0 465.1L642.0 464.9L643.0 464.7L644.0 464.4L645.0 464.1L646.0 463.8L647.0 463.4L648.0 462.8L649.0 462.0L650.0 461.2L651.0 460.4L652.0 459.6L653.0 458.8L654.0 458.0L655.0 457.1L656.0 456.3L657.0 455.6L658.0 454.9L659.0 454.2L660.0 453.5L661.0 452.9L662.0 452.4L663.0 452.1L664.0 452.0L665.0 451.9L666.0 451.7L667.0 451.5L668.0 451.2L669.0 450.8L670.0 450.2L671.0 449.6L672.0 449.1L673.0 448.5L674.0 448.1L675.0 447.8L676.0 447.5L677.0 447.3L678.0 447.1L679.0 447.1L680.0 447.3L681.0 447.8L682.0 448.3L683.0 448.9L684.0 449.7L685.0 450.6L686.0 451.6L687.0 452.4L688.0 452.9L689.0 452.9L690.0 452.8L691.0 452.6L692.0 452.5L693.0 452.6L694.0 452.8L695.0 453.2L696.0 453.6L697.0 454.2L698.0 454.8L699.0 455.6L700.0 456.3L701.0 456.4L702.0 455.8L703.0 454.5L704.0 453.3L705.0 452.5L706.0 451.9L707.0 451.6L708.0 451.2L709.0 450.9L710.0 450.9L711.0 451.1L712.0 451.5L713.0 451.9L714.0 452.0L715.0 451.9L716.0 451.6L717.0 451.2L718.0 450.8L719.0 450.5L720.0 450.2L721.0 449.9L722.0 449.7L723.0 449.4L724.0 449.4L725.0 449.4L726.0 449.5L727.0 449.7L728.0 450.0L729.0 450.6L730.0 451.3L731.0 452.0L732.0 452.5L733.0 452.7" stroke="#26c6da" stroke-width="0.9" fill="none"/>
<path d="M0.0 445.6L1.0 446.1L2.0 446.6L3.0 447.8L4.0 449.3L5.0 451.1L6.0 453.2L7.0 455.5L8.0 457.8L9.0 459.9L10.0 462.0L11.0 463.8L12.0 465.4L13.0 466.8L14.0 468.0L15.0 469.0L16.0 469.9L17.0 470.5L18.0 470.9L19.0 471.2L20.0 471.2L21.0 471.2L22.0 471.1L23.0 471.0L24.0 470.9L25.0 470.8L26.0 470.6L27.0 470.3L28.0 470.1L29.0 469.7L30.0 469.4L31.0 469.0L32.0 468.6L33.0 468.4L34.0 468.2L35.0 468.3L36.0 468.4L37.0 468.8L38.0 469.1L39.0 469.5L40.0 469.8L41.0 470.0L42.0 470.1L43.0 470.1L44.0 470.0L45.0 469.9L46.0 469.7L47.0 469.6L48.0 469.4L49.0 469.1L50.0 468.8L51.0 468.4L52.0 468.0L53.0 467.6L54.0 467.2L55.0 466.6L56.0 466.0L57.0 465.4L58.0 464.6L59.0 463.9L60.0 463.1L61.0 462.4L62.0 461.6L63.0 460.9L64.0 460.1L65.0 459.4L66.0 458.6L67.0 457.8L68.0 457.0L69.0 456.0L70.0 455.0L71.0 453.9L72.0 452.8L73.0 451.8L74.0 451.1L75.0 450.5L76.0 450.2L77.0 450.1L78.0 450.1L79.0 450.2L80.0 450.5L81.0 450.9L82.0 451.2L83.0 451.5L84.0 451.8L85.0 452.0L86.0 452.4L87.0 453.0L88.0 453.7L89.0 454.4L90.0 454.9L91.0 455.1L92.0 455.0L93.0 454.6L94.0 454.2L95.0 453.9L96.0 453.5L97.0 453.2L98.0 452.9L99.0 452.7L100.0 452.6L101.0 452.6L102.0 452.7L103.0 452.9L104.0 453.1L105.0 453.4L106.0 453.6L107.0 453.9L108.0 454.3L109.0 454.5L110.0 454.6L111.0 454.7L112.0 454.7L113.0 454.6L114.0 454.5L115.0 454.3L116.0 454.1L117.0 453.9L118.0 453.7L119.0 453.5L120.0 453.3L121.0 453.1L122.0 453.0L123.0 452.8L124.0 452.7L125.0 452.6L126.0 452.6L127.0 452.8L128.0 453.1L129.0 453.6L130.0 454.3L131.0 454.9L132.0 455.5L133.0 455.9L134.0 456.3L135.0 456.7L136.0 456.9L137.0 457.0L138.0 457.0L139.0 456.9L140.0 456.6L141.0 456.2L142.0 455.9L143.0 455.6L144.0 455.2L145.0 454.9L146.0 454.6L147.0 454.1L148.0 453.6L149.0 453.0L150.0 452.5L151.0 451.9L152.0 451.3L153.0 450.8L154.0 450.3L155.0 449.7L156.0 449.1L157.0 448.5L158.0 447.8L159.0 447.2L160.0 446.6L161.0 446.0L162.0 445.5L163.0 445.0L164.0 444.5L165.0 444.0L166.0 443.6L167.0 443.2L168.0 442.9L169.0 442.6L170.0 442.5L171.0 442.4L172.0 442.6L173.0 442.8L174.0 443.2L175.0 443.5L176.0 443.9L177.0 444.2L178.0 444.6L179.0 445.0L180.0 445.3L181.0 445.4L182.0 445.3L183.0 445.1L184.0 444.8L185.0 444.5L186.0 444.3L187.0 444.3L188.0 444.3L189.0 444.4L190.0 444.7L191.0 445.2L192.0 446.0L193.0 447.1L194.0 448.6L195.0 450.5L196.0 452.5L197.0 454.6L198.0 456.6L199.0 458.3L200.0 459.8L201.0 460.8L202.0 461.6L203.0 462.2L204.0 462.6L205.0 462.9L206.0 463.1L207.0 463.3L208.0 463.4L209.0 463.5L210.0 463.5L211.0 463.5L212.0 463.5L213.0 463.6L214.0 463.7L215.0 463.9L216.0 464.1L217.0 464.3L218.0 464.6L219.0 464.8L220.0 465.0L221.0 465.1L222.0 465.2L223.0 465.2L224.0 465.2L225.0 465.2L226.0 465.2L227.0 465.4L228.0 465.5L229.0 465.8L230.0 466.1L231.0 466.5L232.0 467.0L233.0 467.6L234.0 468.3L235.0 469.1L236.0 469.9L237.0 470.7L238.0 471.6L239.0 472.4L240.0 473.2L241.0 474.0L242.0 474.6L243.0 475.1L244.0 475.2L245.0 474.9L246.0 474.2L247.0 473.2L248.0 471.9L249.0 470.4L250.0 468.8L251.0 467.1L252.0 465.4L253.0 463.8L254.0 462.2L255.0 460.8L256.0 459.5L257.0 458.1L258.0 456.7L259.0 455.3L260.0 453.8L261.0 452.3L262.0 450.9L263.0 449.5L264.0 448.2L265.0 446.9L266.0 445.7L267.0 444.7L268.0 443.8L269.0 443.0L270.0 442.4L271.0 442.0L272.0 441.7L273.0 441.5L274.0 441.3L275.0 441.2L276.0 441.2L277.0 441.2L278.0 441.2L279.0 441.2L280.0 441.3L281.0 441.5L282.0 441.7L283.0 442.0L284.0 442.4L285.0 442.8L286.0 443.3L287.0 443.8L288.0 444.5L289.0 445.1L290.0 445.7L291.0 446.3L292.0 446.9L293.0 447.4L294.0 447.9L295.0 448.5L296.0 449.1L297.0 449.7L298.0 450.3L299.0 451.1L300.0 452.0L301.0 452.9L302.0 453.9L303.0 455.1L304.0 456.2L305.0 457.3L306.0 458.3L307.0 459.1L308.0 459.7L309.0 460.3L310.0 460.4L311.0 460.2L312.0 459.7L313.0 459.0L314.0 458.1L315.0 457.1L316.0 456.2L317.0 455.3L318.0 454.5L319.0 453.7L320.0 453.0L321.0 452.5L322.0 452.0L323.0 451.7L324.0 451.5L325.0 451.2L326.0 451.0L327.0 450.8L328.0 450.7L329.0 450.5L330.0 450.5L331.0 450.4L332.0 450.4L333.0 450.3L334.0 450.4L335.0 450.4L336.0 450.5L337.0 450.6L338.0 450.7L339.0 451.0L340.0 451.5L341.0 452.3L342.0 453.3L343.0 454.5L344.0 455.8L345.0 456.9L346.0 458.0L347.0 458.9L348.0 459.6L349.0 460.2L350.0 460.7L351.0 461.0L352.0 461.4L353.0 461.9L354.0 462.4L355.0 462.9L356.0 463.6L357.0 464.2L358.0 464.8L359.0 465.1L360.0 465.2L361.0 465.1L362.0 464.8L363.0 464.2L364.0 463.6L365.0 462.8L366.0 461.9L367.0 460.9L368.0 460.0L369.0 459.1L370.0 458.3L371.0 457.6L372.0 457.0L373.0 456.4L374.0 455.9L375.0 455.5L376.0 455.2L377.0 454.9L378.0 454.8L379.0 454.9L380.0 455.2L381.0 455.6L382.0 456.2L383.0 456.8L384.0 457.5L385.0 458.1L386.0 458.8L387.0 459.4L388.0 459.9L389.0 460.2L390.0 460.3L391.0 460.3L392.0 460.2L393.0 459.9L394.0 459.6L395.0 459.2L396.0 458.7L397.0 458.1L398.0 457.5L399.0 457.0L400.0 456.5L401.0 456.0L402.0 455.5L403.0 455.0L404.0 454.5L405.0 454.1L406.0 453.6L407.0 453.2L408.0 452.8L409.0 452.4L410.0 452.1L411.0 451.8L412.0 451.5L413.0 451.3L414.0 451.2L415.0 451.2L416.0 451.3L417.0 451.4L418.0 451.6L419.0 451.8L420.0 452.0L421.0 452.2L422.0 452.4L423.0 452.6L424.0 452.8L425.0 453.1L426.0 453.3L427.0 453.4L428.0 453.6L429.0 453.7L430.0 453.7L431.0 453.8L432.0 453.9L433.0 454.1L434.0 454.3L435.0 454.7L436.0 455.1L437.0 455.6L438.0 456.0L439.0 456.4L440.0 456.7L441.0 456.9L442.0 457.1L443.0 457.2L444.0 457.3L445.0 457.2L446.0 457.2L447.0 457.0L448.0 456.9L449.0 456.7L450.0 456.4L451.0 456.1L452.0 455.8L453.0 455.3L454.0 454.9L455.0 454.5L456.0 454.1L457.0 453.7L458.0 453.3L459.0 453.0L460.0 452.7L461.0 452.3L462.0 452.0L463.0 451.8L464.0 451.7L465.0 451.6L466.0 451.6L467.0 451.7L468.0 451.8L469.0 451.8L470.0 451.8L471.0 451.7L472.0 451.6L473.0 451.3L474.0 451.1L475.0 450.7L476.0 450.4L477.0 449.9L478.0 449.5L479.0 449.0L480.0 448.5L481.0 448.0L482.0 447.6L483.0 447.1L484.0 446.7L485.0 446.3L486.0 446.0L487.0 445.8L488.0 445.7L489.0 445.7L490.0 445.9L491.0 446.0L492.0 446.2L493.0 446.5L494.0 446.8L495.0 447.2L496.0 447.6L497.0 448.1L498.0 448.7L499.0 449.4L500.0 450.3L501.0 451.4L502.0 452.5L503.0 453.7L504.0 454.8L505.0 455.8L506.0 456.8L507.0 457.6L508.0 458.4L509.0 459.0L510.0 459.6L511.0 460.0L512.0 460.5L513.0 460.8L514.0 461.0L515.0 461.2L516.0 461.4L517.0 461.5L518.0 461.6L519.0 461.6L520.0 461.5L521.0 461.4L522.0 461.3L523.0 461.1L524.0 460.9L525.0 460.5L526.0 460.1L527.0 459.6L528.0 459.0L529.0 458.4L530.0 457.8L531.0 457.2L532.0 456.6L533.0 455.9L534.0 455.2L535.0 454.5L536.0 453.7L537.0 452.8L538.0 451.9L539.0 450.9L540.0 449.9L541.0 449.0L542.0 448.1L543.0 447.2L544.0 446.4L545.0 445.6L546.0 445.0L547.0 444.5L548.0 444.2L549.0 443.9L550.0 443.8L551.0 443.7L552.0 443.7L553.0 443.8L554.0 444.0L555.0 444.3L556.0 444.5L557.0 444.8L558.0 445.1L559.0 445.4L560.0 445.7L561.0 446.0L562.0 446.3L563.0 446.6L564.0 446.9L565.0 447.3L566.0 447.7L567.0 448.0L568.0 448.4L569.0 448.8L570.0 449.3L571.0 449.9L572.0 450.5L573.0 451.2L574.0 451.9L575.0 452.6L576.0 453.4L577.0 454.3L578.0 455.3L579.0 456.3L580.0 457.5L581.0 458.7L582.0 459.8L583.0 461.0L584.0 462.2L585.0 463.3L586.0 464.4L587.0 465.3L588.0 466.2L589.0 466.8L590.0 467.4L591.0 467.8L592.0 468.0L593.0 468.0L594.0 467.8L595.0 467.4L596.0 466.8L597.0 466.2L598.0 465.4L599.0 464.6L600.0 463.8L601.0 463.0L602.0 462.3L603.0 461.8L604.0 461.5L605.0 461.3L606.0 461.4L607.0 461.9L608.0 462.6L609.0 463.4L610.0 464.5L611.0 465.6L612.0 466.5L613.0 467.3L614.0 467.9L615.0 468.4L616.0 468.8L617.0 469.2L618.0 469.4L619.0 469.6L620.0 469.6L621.0 469.7L622.0 469.7L623.0 469.7L624.0 469.6L625.0 469.5L626.0 469.3L627.0 469.0L628.0 468.7L629.0 468.4L630.0 468.1L631.0 467.7L632.0 467.3L633.0 466.9L634.0 466.5L635.0 466.2L636.0 465.9L637.0 465.7L638.0 465.5L639.0 465.3L640.0 465.2L641.0 465.1L642.0 464.9L643.0 464.7L644.0 464.5L645.0 464.2L646.0 463.8L647.0 463.5L648.0 463.2L649.0 462.8L650.0 462.3L651.0 461.7L652.0 461.0L653.0 460.3L654.0 459.6L655.0 458.9L656.0 458.2L657.0 457.5L658.0 456.8L659.0 456.0L660.0 455.3L661.0 454.7L662.0 454.1L663.0 453.6L664.0 453.2L665.0 452.8L666.0 452.5L667.0 452.1L668.0 451.7L669.0 451.3L670.0 451.0L671.0 450.6L672.0 450.2L673.0 449.8L674.0 449.5L675.0 449.2L676.0 448.9L677.0 448.7L678.0 448.5L679.0 448.3L680.0 448.3L681.0 448.4L682.0 448.7L683.0 449.0L684.0 449.5L685.0 449.9L686.0 450.3L687.0 450.6L688.0 451.0L689.0 451.3L690.0 451.6L691.0 451.9L692.0 452.2L693.0 452.4L694.0 452.7L695.0 453.0L696.0 453.3L697.0 453.7L698.0 454.1L699.0 454.6L700.0 455.0L701.0 455.1L702.0 455.1L703.0 454.8L704.0 454.4L705.0 453.9L706.0 453.5L707.0 453.1L708.0 452.7L709.0 452.3L710.0 452.0L711.0 451.8L712.0 451.7L713.0 451.7L714.0 451.7L715.0 451.8L716.0 451.8L717.0 451.7L718.0 451.5L719.0 451.2L720.0 450.9L721.0 450.6L722.0 450.3L723.0 450.1L724.0 449.9L725.0 449.7L726.0 449.6L727.0 449.5L728.0 449.7L729.0 449.9L730.0 450.3L731.0 450.8L732.0 451.1L733.0 451.3" stroke="#ff9332" stroke-width="0.9" fill="none"/>
<path d="M0 492.7H733M0 521.4H733" stroke="#80deea" stroke-width="0.8" fill="none"/>
<path d="M0 492.7H894.5" stroke="#ff5252" stroke-width="0.9" stroke-dasharray="3.9 2.7" fill="none"/>
<path d="M0 506.8H894.5" stroke="#555555" stroke-width="1.1" stroke-dasharray="3.9 2.7" fill="none"/>
<path d="M0 521.4H894.5" stroke="#43a047" stroke-width="0.9" stroke-dasharray="3.9 2.7" fill="none"/>
<path d="M0 521.4L0.0 521.4L1.1 521.4L2.2 521.4L3.4 521.4L4.5 521.4L5.6 521.4L6.7 521.4L7.8 521.4L8.9 521.4L10.1 521.4L11.2 521.4L12.3 521.4L13.4 521.4L14.5 521.4L15.6 521.4L16.8 521.4L17.9 521.4L19.0 521.4L20.1 521.4L21.2 521.4L22.3 521.4L23.5 521.4L24.6 521.4L25.7 521.4L26.8 521.4L27.9 521.4L29.0 521.4L30.2 521.4L31.3 521.4L32.4 521.4L33.5 521.4L34.6 521.4L35.7 521.4L36.9 521.4L38.0 521.4L39.1 521.4L40.2 521.4L41.3 521.4L42.4 521.4L43.6 521.4L44.7 521.4L45.8 521.4L46.9 521.4L48.0 521.4L49.1 521.4L50.3 521.4L51.4 521.4L52.5 521.4L53.6 521.4L54.7 521.4L55.8 521.4L57.0 521.4L58.1 521.4L59.2 521.4L60.3 521.4L61.4 521.4L62.6 521.4L63.7 521.4L64.8 521.4L65.9 521.4L67.0 521.4L68.1 521.4L69.3 521.4L70.4 521.4L71.5 521.4L72.6 521.4L73.7 521.4L74.8 521.4L76.0 521.4L77.1 521.4L78.2 521.4L79.3 521.4L80.4 521.4L81.5 521.4L82.7 521.4L83.8 521.4L84.9 521.4L86.0 521.4L87.1 521.4L88.2 521.4L89.4 521.4L90.5 521.4L91.6 521.4L92.7 521.4L93.8 521.4L94.9 521.4L96.1 521.4L97.2 521.4L98.3 521.4L99.4 521.4L100.5 521.4L101.6 521.4L102.8 521.4L103.9 521.4L105.0 521.4L106.1 521.4L107.2 521.4L108.3 521.4L109.5 521.4L110.6 521.4L111.7 521.4L112.8 521.4L113.9 521.4L115.1 521.4L116.2 521.4L117.3 521.4L118.4 521.4L119.5 521.4L120.6 521.4L121.8 521.4L122.9 521.4L124.0 521.4L125.1 521.4L126.2 521.4L127.3 521.4L128.5 521.4L129.6 521.4L130.7 521.4L131.8 521.4L132.9 521.4L134.0 521.4L135.2 521.4L136.3 521.4L137.4 521.4L138.5 521.4L139.6 521.4L140.7 521.4L141.9 521.4L143.0 521.4L144.1 521.4L145.2 521.4L146.3 521.4L147.4 521.4L148.6 521.4L149.7 521.4L150.8 521.4L151.9 521.4L153.0 521.4L154.1 521.4L155.3 521.4L156.4 521.4L157.5 521.4L158.6 521.4L159.7 521.4L160.8 521.4L162.0 521.4L163.1 521.4L164.2 521.4L165.3 521.4L166.4 521.4L167.5 521.4L168.7 521.4L169.8 521.4L170.9 521.4L172.0 521.4L173.1 521.4L174.3 521.4L175.4 521.4L176.5 521.4L177.6 521.4L178.7 521.4L179.8 521.4L181.0 521.4L182.1 521.4L183.2 521.4L184.3 521.4L185.4 521.4L186.5 521.4L187.7 521.4L188.8 521.4L189.9 521.4L191.0 521.4L192.1 521.4L193.2 521.4L194.4 521.4L195.5 521.4L196.6 521.4L197.7 521.4L198.8 521.4L199.9 521.4L201.1 521.4L202.2 521.4L203.3 521.4L204.4 521.4L205.5 521.4L206.6 521.4L207.8 521.4L208.9 521.4L210.0 521.4L211.1 521.4L212.2 521.4L213.3 521.4L214.5 521.4L215.6 521.4L216.7 521.4L217.8 521.4L218.9 521.4L220.0 521.4L221.2 521.4L222.3 521.4L223.4 521.4L224.5 521.4L225.6 521.4L226.8 521.4L227.9 521.4L229.0 521.4L230.1 521.4L231.2 521.4L232.3 521.4L233.5 521.4L234.6 524.3L235.7 523.6L236.8 521.4L237.9 521.4L239.0 523.3L240.2 526.0L241.3 523.6L242.4 521.4L243.5 521.4L244.6 521.4L245.7 521.8L246.9 521.4L248.0 521.4L249.1 521.4L250.2 521.4L251.3 521.4L252.4 521.4L253.6 521.4L254.7 521.4L255.8 521.4L256.9 521.4L258.0 521.4L259.1 521.4L260.3 521.4L261.4 521.4L262.5 521.4L263.6 521.4L264.7 521.4L265.8 521.4L267.0 521.4L268.1 521.4L269.2 521.4L270.3 521.4L271.4 521.4L272.5 521.4L273.7 521.4L274.8 521.4L275.9 521.4L277.0 521.4L278.1 521.4L279.2 521.4L280.4 521.4L281.5 521.4L282.6 521.4L283.7 521.4L284.8 521.4L286.0 521.4L287.1 521.4L288.2 521.4L289.3 521.4L290.4 521.4L291.5 521.4L292.7 521.4L293.8 521.4L294.9 521.4L296.0 521.4L297.1 521.4L298.2 521.4L299.4 521.4L300.5 521.4L301.6 521.4L302.7 521.4L303.8 521.4L304.9 521.4L306.1 521.4L307.2 521.4L308.3 521.4L309.4 521.4L310.5 521.4L311.6 521.4L312.8 521.4L313.9 521.4L315.0 521.4L316.1 521.4L317.2 521.4L318.3 521.4L319.5 521.4L320.6 521.4L321.7 521.4L322.8 521.4L323.9 521.4L325.0 521.4L326.2 521.4L327.3 521.4L328.4 521.4L329.5 521.4L330.6 521.4L331.7 521.4L332.9 521.4L334.0 521.4L335.1 521.4L336.2 521.4L337.3 521.4L338.5 521.4L339.6 521.4L340.7 521.4L341.8 521.4L342.9 521.4L344.0 521.4L345.2 521.4L346.3 521.4L347.4 521.4L348.5 521.4L349.6 521.4L350.7 521.4L351.9 521.4L353.0 521.4L354.1 521.4L355.2 521.4L356.3 521.4L357.4 521.4L358.6 521.4L359.7 521.4L360.8 521.4L361.9 521.4L363.0 521.4L364.1 521.4L365.3 521.4L366.4 521.4L367.5 521.4L368.6 521.4L369.7 521.4L370.8 521.4L372.0 521.4L373.1 521.4L374.2 521.4L375.3 521.4L376.4 521.4L377.5 521.4L378.7 521.4L379.8 521.4L380.9 521.4L382.0 521.4L383.1 521.4L384.2 521.4L385.4 521.4L386.5 521.4L387.6 521.4L388.7 521.4L389.8 521.4L391.0 521.4L392.1 521.4L393.2 521.4L394.3 521.4L395.4 521.4L396.5 521.4L397.7 521.4L398.8 521.4L399.9 521.4L401.0 521.4L402.1 521.4L403.2 521.4L404.4 521.4L405.5 521.4L406.6 521.4L407.7 521.4L408.8 521.4L409.9 521.4L411.1 521.4L412.2 521.4L413.3 521.4L414.4 521.4L415.5 521.4L416.6 521.4L417.8 521.4L418.9 521.4L420.0 521.4L421.1 521.4L422.2 521.4L423.3 521.4L424.5 521.4L425.6 521.4L426.7 521.4L427.8 521.4L428.9 521.4L430.0 521.4L431.2 521.4L432.3 521.4L433.4 521.4L434.5 521.4L435.6 521.4L436.7 521.4L437.9 521.4L439.0 521.4L440.1 521.4L441.2 521.4L442.3 521.4L443.4 521.4L444.6 521.4L445.7 521.4L446.8 521.4L447.9 521.4L449.0 521.4L450.2 521.4L451.3 521.4L452.4 521.4L453.5 521.4L454.6 521.4L455.7 521.4L456.9 521.4L458.0 521.4L459.1 521.4L460.2 521.4L461.3 521.4L462.4 521.4L463.6 521.4L464.7 521.4L465.8 521.4L466.9 521.4L468.0 521.4L469.1 521.4L470.3 521.4L471.4 521.4L472.5 521.4L473.6 521.4L474.7 521.4L475.8 521.4L477.0 521.4L478.1 521.4L479.2 521.4L480.3 521.4L481.4 521.4L482.5 521.4L483.7 521.4L484.8 521.4L485.9 521.4L487.0 521.4L488.1 521.4L489.2 521.4L490.4 521.4L491.5 521.4L492.6 521.4L493.7 521.4L494.8 521.4L495.9 521.4L497.1 521.4L498.2 521.4L499.3 521.4L500.4 521.4L501.5 521.4L502.7 521.4L503.8 521.4L504.9 521.4L506.0 521.4L507.1 521.4L508.2 521.4L509.4 521.4L510.5 521.4L511.6 521.4L512.7 521.4L513.8 521.4L514.9 521.4L516.1 521.4L517.2 521.4L518.3 521.4L519.4 521.4L520.5 521.4L521.6 521.4L522.8 521.4L523.9 521.4L525.0 521.4L526.1 521.4L527.2 521.4L528.3 521.4L529.5 521.4L530.6 521.4L531.7 521.4L532.8 521.4L533.9 521.4L535.0 521.4L536.2 521.4L537.3 521.4L538.4 521.4L539.5 521.4L540.6 521.4L541.7 521.4L542.9 521.4L544.0 521.4L545.1 521.4L546.2 521.4L547.3 521.4L548.4 521.4L549.6 521.4L550.7 521.4L551.8 521.4L552.9 521.4L554.0 521.4L555.1 521.4L556.3 521.4L557.4 521.4L558.5 521.4L559.6 521.4L560.7 521.4L561.9 521.4L563.0 521.4L564.1 521.4L565.2 521.4L566.3 521.4L567.4 521.4L568.6 521.4L569.7 521.4L570.8 521.4L571.9 521.4L573.0 521.4L574.1 521.4L575.3 521.4L576.4 521.4L577.5 521.4L578.6 521.4L579.7 521.4L580.8 521.4L582.0 522.4L583.1 524.6L584.2 523.2L585.3 524.9L586.4 523.2L587.5 522.7L588.7 521.4L589.8 521.4L590.9 521.4L592.0 521.4L593.1 521.4L594.2 521.4L595.4 521.4L596.5 521.4L597.6 521.4L598.7 521.4L599.8 521.4L600.9 521.4L602.1 521.4L603.2 521.4L604.3 521.4L605.4 521.4L606.5 521.4L607.6 521.4L608.8 521.4L609.9 523.5L611.0 522.4L612.1 522.0L613.2 521.4L614.3 521.4L615.5 521.4L616.6 521.4L617.7 521.4L618.8 521.4L619.9 521.4L621.1 524.2L622.2 521.4L623.3 521.4L624.4 521.4L625.5 521.4L626.6 521.4L627.8 521.4L628.9 521.4L630.0 521.4L631.1 521.4L632.2 521.4L633.3 521.4L634.5 521.4L635.6 521.4L636.7 521.4L637.8 521.4L638.9 521.4L640.0 521.4L641.2 521.4L642.3 521.4L643.4 521.4L644.5 521.4L645.6 521.4L646.7 521.4L647.9 521.4L649.0 521.4L650.1 521.4L651.2 521.4L652.3 521.4L653.4 521.4L654.6 521.4L655.7 521.4L656.8 521.4L657.9 521.4L659.0 521.4L660.1 521.4L661.3 521.4L662.4 521.4L663.5 521.4L664.6 521.4L665.7 521.4L666.8 521.4L668.0 521.4L669.1 521.4L670.2 521.4L671.3 521.4L672.4 521.4L673.6 521.4L674.7 521.4L675.8 521.4L676.9 521.4L678.0 521.4L679.1 521.4L680.3 521.4L681.4 521.4L682.5 521.4L683.6 521.4L684.7 521.4L685.8 521.4L687.0 521.4L688.1 521.4L689.2 521.4L690.3 521.4L691.4 521.4L692.5 521.4L693.7 521.4L694.8 521.4L695.9 521.4L697.0 521.4L698.1 521.4L699.2 521.4L700.4 521.4L701.5 521.4L702.6 521.4L703.7 521.4L704.8 521.4L705.9 521.4L707.1 521.4L708.2 521.4L709.3 521.4L710.4 521.4L711.5 521.4L712.6 521.4L713.8 521.4L714.9 521.4L716.0 521.4L717.1 521.4L718.2 521.4L719.3 521.4L720.5 521.4L721.6 521.4L722.7 521.4L723.8 521.4L724.9 521.4L726.0 521.4L727.2 521.4L728.3 521.4L729.4 521.4L730.5 521.4L731.6 521.4L732.8 521.4L733.9 521.4L733.9 521.4Z" fill="#26a69a" fill-opacity="0.85" stroke="none"/>
<path d="M0.0 506.1L1.1 505.8L2.2 506.5L3.4 505.6L4.5 507.7L5.6 513.7L6.7 515.9L7.8 516.7L8.9 517.0L10.1 516.0L11.2 516.5L12.3 516.9L13.4 516.9L14.5 517.4L15.6 518.6L16.8 519.3L17.9 517.7L19.0 512.7L20.1 509.7L21.2 512.0L22.3 514.0L23.5 513.0L24.6 511.8L25.7 510.8L26.8 510.9L27.9 512.9L29.0 512.7L30.2 511.7L31.3 513.3L32.4 514.2L33.5 513.9L34.6 513.6L35.7 515.0L36.9 515.7L38.0 516.0L39.1 517.4L40.2 515.9L41.3 516.5L42.4 514.9L43.6 514.0L44.7 514.0L45.8 513.0L46.9 512.4L48.0 513.2L49.1 513.9L50.3 513.6L51.4 513.9L52.5 512.9L53.6 511.1L54.7 510.7L55.8 511.4L57.0 511.5L58.1 511.5L59.2 509.6L60.3 510.0L61.4 509.4L62.6 508.6L63.7 508.3L64.8 508.6L65.9 510.3L67.0 507.3L68.1 504.8L69.3 502.6L70.4 499.8L71.5 498.1L72.6 497.9L73.7 502.7L74.8 506.0L76.0 506.8L77.1 507.7L78.2 507.4L79.3 507.5L80.4 507.3L81.5 505.1L82.7 503.4L83.8 501.1L84.9 503.2L86.0 507.1L87.1 509.1L88.2 512.4L89.4 513.2L90.5 509.2L91.6 505.7L92.7 502.9L93.8 502.5L94.9 502.9L96.1 503.0L97.2 504.9L98.3 504.5L99.4 506.9L100.5 506.8L101.6 506.4L102.8 505.5L103.9 505.7L105.0 507.0L106.1 507.4L107.2 507.9L108.3 507.0L109.5 506.4L110.6 505.9L111.7 505.5L112.8 504.9L113.9 503.5L115.1 504.3L116.2 505.1L117.3 505.5L118.4 504.8L119.5 504.3L120.6 504.2L121.8 505.2L122.9 506.0L124.0 506.6L125.1 504.5L126.2 502.5L127.3 503.3L128.5 511.1L129.6 513.4L130.7 514.5L131.8 512.3L132.9 512.6L134.0 511.6L135.2 509.6L136.3 508.7L137.4 508.1L138.5 506.9L139.6 506.9L140.7 506.0L141.9 505.9L143.0 506.6L144.1 504.9L145.2 504.8L146.3 504.2L147.4 502.3L148.6 502.0L149.7 503.9L150.8 504.1L151.9 505.2L153.0 503.7L154.1 499.8L155.3 496.1L156.4 495.1L157.5 493.8L158.6 494.7L159.7 497.1L160.8 496.9L162.0 495.8L163.1 496.9L164.2 495.2L165.3 493.8L166.4 493.5L167.5 492.3L168.7 493.1L169.8 493.7L170.9 494.6L172.0 496.7L173.1 496.1L174.3 496.5L175.4 496.3L176.5 496.6L177.6 499.2L178.7 500.5L179.8 499.8L181.0 496.9L182.1 493.5L183.2 493.4L184.3 493.1L185.4 493.1L186.5 495.7L187.7 496.4L188.8 495.0L189.9 496.0L191.0 496.6L192.1 498.8L193.2 508.8L194.4 515.2L195.5 517.4L196.6 517.4L197.7 516.6L198.8 513.5L199.9 513.9L201.1 514.4L202.2 514.1L203.3 514.4L204.4 512.9L205.5 512.2L206.6 513.2L207.8 513.3L208.9 514.6L210.0 514.0L211.1 513.8L212.2 512.7L213.3 514.2L214.5 515.8L215.6 516.2L216.7 518.6L217.8 519.0L218.9 520.1L220.0 518.0L221.2 516.3L222.3 513.5L223.4 514.5L224.5 515.8L225.6 516.7L226.8 516.8L227.9 516.2L229.0 517.8L230.1 517.7L231.2 519.3L232.3 520.7L233.5 520.5L234.6 524.3L235.7 523.6L236.8 521.3L237.9 521.0L239.0 523.3L240.2 526.0L241.3 523.6L242.4 520.7L243.5 519.3L244.6 519.8L245.7 521.8L246.9 513.2L248.0 507.5L249.1 507.3L250.2 508.4L251.3 508.3L252.4 508.5L253.6 510.4L254.7 508.9L255.8 507.8L256.9 506.6L258.0 504.9L259.1 501.0L260.3 499.5L261.4 497.2L262.5 496.1L263.6 497.9L264.7 498.9L265.8 498.0L267.0 498.6L268.1 500.0L269.2 499.3L270.3 497.9L271.4 497.3L272.5 495.9L273.7 496.4L274.8 495.3L275.9 497.0L277.0 497.3L278.1 496.9L279.2 496.8L280.4 496.1L281.5 496.9L282.6 497.0L283.7 496.7L284.8 497.6L286.0 501.1L287.1 504.9L288.2 504.0L289.3 502.5L290.4 501.6L291.5 500.4L292.7 500.9L293.8 500.7L294.9 501.6L296.0 503.8L297.1 506.2L298.2 505.9L299.4 507.5L300.5 508.8L301.6 511.1L302.7 513.7L303.8 514.1L304.9 513.7L306.1 514.2L307.2 514.2L308.3 513.0L309.4 509.1L310.5 504.4L311.6 502.4L312.8 502.5L313.9 503.8L315.0 503.8L316.1 502.0L317.2 500.7L318.3 500.7L319.5 501.1L320.6 502.6L321.7 502.4L322.8 502.2L323.9 502.8L325.0 504.0L326.2 505.3L327.3 503.4L328.4 501.3L329.5 501.8L330.6 501.6L331.7 502.2L332.9 501.6L334.0 500.6L335.1 501.7L336.2 502.8L337.3 504.8L338.5 504.3L339.6 504.9L340.7 510.8L341.8 513.3L342.9 513.0L344.0 512.0L345.2 511.3L346.3 512.3L347.4 510.9L348.5 509.7L349.6 507.6L350.7 508.9L351.9 513.8L353.0 516.1L354.1 516.9L355.2 517.0L356.3 516.9L357.4 515.8L358.6 515.6L359.7 513.7L360.8 513.9L361.9 512.3L363.0 509.2L364.1 507.1L365.3 507.4L366.4 508.1L367.5 507.0L368.6 507.7L369.7 506.9L370.8 507.6L372.0 505.9L373.1 506.5L374.2 507.1L375.3 506.0L376.4 506.0L377.5 505.5L378.7 507.0L379.8 509.7L380.9 513.0L382.0 514.1L383.1 515.5L384.2 516.1L385.4 515.9L386.5 515.6L387.6 514.4L388.7 513.3L389.8 514.1L391.0 514.3L392.1 512.8L393.2 508.5L394.3 506.5L395.4 506.0L396.5 504.8L397.7 504.2L398.8 504.1L399.9 505.0L401.0 505.8L402.1 505.6L403.2 506.8L404.4 507.7L405.5 506.4L406.6 503.8L407.7 500.3L408.8 499.6L409.9 502.0L411.1 502.8L412.2 502.5L413.3 503.4L414.4 503.3L415.5 505.7L416.6 506.6L417.8 508.0L418.9 507.8L420.0 506.7L421.1 506.6L422.2 505.5L423.3 506.9L424.5 506.1L425.6 506.7L426.7 504.8L427.8 505.9L428.9 506.3L430.0 505.7L431.2 505.5L432.3 505.9L433.4 507.3L434.5 509.8L435.6 510.0L436.7 512.1L437.9 512.2L439.0 513.3L440.1 512.6L441.2 511.7L442.3 511.1L443.4 509.3L444.6 506.9L445.7 508.1L446.8 509.4L447.9 511.6L449.0 510.5L450.2 509.3L451.3 507.4L452.4 507.1L453.5 506.3L454.6 503.4L455.7 501.1L456.9 499.6L458.0 499.8L459.1 497.8L460.2 497.0L461.3 499.8L462.4 501.6L463.6 502.1L464.7 501.7L465.8 502.9L466.9 501.1L468.0 501.7L469.1 502.7L470.3 504.9L471.4 507.3L472.5 502.8L473.6 498.8L474.7 496.2L475.8 494.1L477.0 494.1L478.1 492.9L479.2 493.3L480.3 494.2L481.4 495.1L482.5 494.4L483.7 491.9L484.8 490.5L485.9 490.7L487.0 489.4L488.1 498.0L489.2 500.5L490.4 501.1L491.5 500.8L492.6 501.9L493.7 501.6L494.8 501.6L495.9 502.7L497.1 501.0L498.2 501.9L499.3 502.3L500.4 509.0L501.5 513.9L502.7 514.5L503.8 512.8L504.9 513.4L506.0 512.9L507.1 513.6L508.2 513.4L509.4 512.5L510.5 510.7L511.6 511.4L512.7 513.3L513.8 515.6L514.9 515.5L516.1 513.9L517.2 513.7L518.3 513.5L519.4 512.9L520.5 514.0L521.6 511.8L522.8 511.6L523.9 510.0L525.0 509.9L526.1 508.5L527.2 506.0L528.3 506.3L529.5 505.9L530.6 504.3L531.7 503.6L532.8 503.1L533.9 503.0L535.0 500.1L536.2 499.4L537.3 497.5L538.4 495.6L539.5 494.2L540.6 493.0L541.7 491.5L542.9 493.0L544.0 492.3L545.1 493.7L546.2 494.7L547.3 494.3L548.4 496.0L549.6 496.6L550.7 495.6L551.8 495.6L552.9 496.6L554.0 499.0L555.1 497.5L556.3 498.3L557.4 496.0L558.5 496.8L559.6 496.5L560.7 497.4L561.9 499.1L563.0 498.3L564.1 499.0L565.2 500.5L566.3 501.5L567.4 503.2L568.6 504.7L569.7 503.6L570.8 504.5L571.9 506.1L573.0 506.7L574.1 506.4L575.3 508.1L576.4 508.7L577.5 510.2L578.6 510.7L579.7 514.6L580.8 520.9L582.0 522.4L583.1 524.6L584.2 523.2L585.3 524.9L586.4 523.2L587.5 522.7L588.7 520.8L589.8 520.1L590.9 517.1L592.0 516.2L593.1 514.7L594.2 513.4L595.4 513.3L596.5 513.0L597.6 513.2L598.7 511.4L599.8 510.3L600.9 512.0L602.1 512.4L603.2 512.7L604.3 513.3L605.4 514.8L606.5 516.6L607.6 518.3L608.8 520.5L609.9 523.5L611.0 522.4L612.1 522.0L613.2 520.7L614.3 519.7L615.5 520.8L616.6 520.0L617.7 518.1L618.8 518.8L619.9 520.9L621.1 524.2L622.2 517.7L623.3 517.2L624.4 517.7L625.5 518.7L626.6 518.2L627.8 518.1L628.9 515.9L630.0 514.8L631.1 513.8L632.2 512.2L633.3 515.7L634.5 517.6L635.6 519.7L636.7 515.8L637.8 513.9L638.9 514.7L640.0 514.5L641.2 514.5L642.3 514.7L643.4 514.8L644.5 516.4L645.6 515.0L646.7 513.8L647.9 512.1L649.0 514.1L650.1 514.3L651.2 513.3L652.3 509.2L653.4 508.4L654.6 509.3L655.7 507.2L656.8 507.3L657.9 506.1L659.0 504.1L660.1 504.4L661.3 505.7L662.4 504.9L663.5 505.6L664.6 505.5L665.7 504.6L666.8 505.6L668.0 505.7L669.1 505.7L670.2 503.9L671.3 502.1L672.4 500.3L673.6 501.6L674.7 502.2L675.8 500.8L676.9 500.6L678.0 499.2L679.1 501.5L680.3 502.2L681.4 504.0L682.5 505.0L683.6 506.4L684.7 507.3L685.8 506.3L687.0 506.2L688.1 504.9L689.2 505.1L690.3 505.4L691.4 505.8L692.5 504.0L693.7 503.4L694.8 506.0L695.9 506.9L697.0 508.1L698.1 509.2L699.2 512.0L700.4 514.3L701.5 507.2L702.6 502.2L703.7 501.2L704.8 501.4L705.9 500.4L707.1 500.8L708.2 501.2L709.3 501.2L710.4 503.1L711.5 506.5L712.6 508.0L713.8 506.7L714.9 504.9L716.0 502.4L717.1 501.4L718.2 501.1L719.3 500.9L720.5 501.1L721.6 501.3L722.7 500.9L723.8 498.7L724.9 498.5L726.0 499.3L727.2 502.2L728.3 504.3L729.4 507.3L730.5 506.9L731.6 505.9L732.8 504.1L733.9 503.3" stroke="#555a60" stroke-width="0.7" fill="none" stroke-linejoin="round"/>
<g><clipPath id="c742"><circle cx="742.6" cy="424.3" r="6.0"/></clipPath><g clip-path="url(#c742)"><rect x="736.6" y="418.3" width="12.0" height="12.0" fill="#ffffff"/><rect x="737.4" y="419.3" width="5.6" height="6.6" fill="#4ecfc6"/><rect x="737.4" y="421.3" width="5.6" height="0.9" fill="#5a5af0"/><rect x="737.4" y="423.3" width="5.6" height="1.0" fill="#5a5af0"/><rect x="743.0" y="423.7" width="6" height="1.7" fill="#f0443a"/><rect x="743.0" y="420.3" width="6" height="1.4" fill="#f0443a" fill-opacity="0.55"/><rect x="736.6" y="427.6" width="12" height="1.9" fill="#f0443a"/></g><circle cx="742.6" cy="424.3" r="6.1" fill="none" stroke="#f5443a" stroke-width="0.9" stroke-opacity="0.9"/><circle cx="742.6" cy="424.3" r="7.1" fill="none" stroke="#ffb066" stroke-width="1.1" stroke-opacity="0.85"/><rect x="743.2" y="415.7" width="9.0" height="7.0" rx="1.5" fill="#ffffff"/><text x="747.7" y="421.7" font-size="6.1" fill="#4a4a4a" text-anchor="middle">33</text></g>
<g><clipPath id="c757"><circle cx="757.9" cy="424.3" r="6.0"/></clipPath><g clip-path="url(#c757)"><rect x="751.9" y="418.3" width="12.0" height="12.0" fill="#ffffff"/><rect x="752.7" y="419.3" width="5.6" height="6.6" fill="#4ecfc6"/><rect x="752.7" y="421.3" width="5.6" height="0.9" fill="#5a5af0"/><rect x="752.7" y="423.3" width="5.6" height="1.0" fill="#5a5af0"/><rect x="758.3" y="423.7" width="6" height="1.7" fill="#f0443a"/><rect x="758.3" y="420.3" width="6" height="1.4" fill="#f0443a" fill-opacity="0.55"/><rect x="751.9" y="427.6" width="12" height="1.9" fill="#f0443a"/></g><circle cx="757.9" cy="424.3" r="6.7" fill="none" stroke="#ffab5e" stroke-width="1.7" stroke-opacity="0.85"/><circle cx="759.3" cy="424.7" r="7.0" fill="none" stroke="#ffb877" stroke-width="0.8" stroke-opacity="0.6"/><rect x="759.8" y="415.7" width="5.6" height="7.0" rx="1.5" fill="#ffffff"/><text x="762.6" y="421.7" font-size="6.1" fill="#4a4a4a" text-anchor="middle">8</text></g>
<g><clipPath id="c796"><circle cx="796.7" cy="424.3" r="6.0"/></clipPath><g clip-path="url(#c796)"><rect x="790.7" y="418.3" width="12.0" height="12.0" fill="#ffffff"/><rect x="791.5" y="419.3" width="5.6" height="6.6" fill="#4ecfc6"/><rect x="791.5" y="421.3" width="5.6" height="0.9" fill="#5a5af0"/><rect x="791.5" y="423.3" width="5.6" height="1.0" fill="#5a5af0"/><rect x="797.1" y="423.7" width="6" height="1.7" fill="#f0443a"/><rect x="797.1" y="420.3" width="6" height="1.4" fill="#f0443a" fill-opacity="0.55"/><rect x="790.7" y="427.6" width="12" height="1.9" fill="#f0443a"/></g><circle cx="796.7" cy="424.3" r="6.7" fill="none" stroke="#ffab5e" stroke-width="2.3" stroke-opacity="0.85"/><circle cx="798.1" cy="424.7" r="7.0" fill="none" stroke="#ffb877" stroke-width="0.8" stroke-opacity="0.6"/><rect x="801.4" y="415.7" width="5.6" height="7.0" rx="1.5" fill="#ffffff"/><text x="804.2" y="421.7" font-size="6.1" fill="#4a4a4a" text-anchor="middle">3</text></g>
<g><clipPath id="c811"><circle cx="811.8" cy="424.5" r="6.0"/></clipPath><g clip-path="url(#c811)"><rect x="805.8" y="418.5" width="12.0" height="12.0" fill="#ffffff"/><rect x="806.6" y="419.5" width="5.6" height="6.6" fill="#4ecfc6"/><rect x="806.6" y="421.5" width="5.6" height="0.9" fill="#5a5af0"/><rect x="806.6" y="423.5" width="5.6" height="1.0" fill="#5a5af0"/><rect x="812.2" y="423.9" width="6" height="1.7" fill="#f0443a"/><rect x="812.2" y="420.5" width="6" height="1.4" fill="#f0443a" fill-opacity="0.55"/><rect x="805.8" y="427.8" width="12" height="1.9" fill="#f0443a"/></g><circle cx="811.8" cy="424.5" r="6.7" fill="none" stroke="#ffab5e" stroke-width="1.7" stroke-opacity="0.85"/><circle cx="813.1999999999999" cy="424.9" r="7.0" fill="none" stroke="#ffb877" stroke-width="0.8" stroke-opacity="0.6"/><rect x="812.2" y="415.9" width="5.6" height="7.0" rx="1.5" fill="#ffffff"/><text x="815.0" y="421.9" font-size="6.1" fill="#4a4a4a" text-anchor="middle">6</text></g>
<rect x="896.9" y="0" width="40" height="550" fill="#ffffff"/>
<rect x="0" y="433" width="932" height="1" fill="#9b9da5"/><rect x="0" y="434" width="932" height="1" fill="#e2e3e6"/>
<rect x="0" y="482" width="932" height="1" fill="#cbccd0"/><rect x="0" y="483" width="932" height="1" fill="#a8aaaf"/>
<path d="M0 532.5H932" stroke="#7c7e8a" stroke-width="1" fill="none"/>
<path d="M896.5 0V550" stroke="#80828e" stroke-width="1" fill="none"/>
<path d="M896.5 418.0h2.4M896.5 384.0h2.4M896.5 350.1h2.4M896.5 316.1h2.4M896.5 282.2h2.4M896.5 248.2h2.4M896.5 214.3h2.4M896.5 180.3h2.4M896.5 146.4h2.4M896.5 112.4h2.4M896.5 78.5h2.4M896.5 44.5h2.4M896.5 10.6h2.4M896.5 454.2h2.4M896.5 476h2.4M896.5 485.6h2.4M896.5 513.4h2.4M26.3 532.5v2.2M93.6 532.5v2.2M159.7 532.5v2.2M239.6 532.5v2.2M293.6 532.5v2.2M360.3 532.5v2.2M427.6 532.5v2.2M494.3 532.5v2.2M548.1 532.5v2.2M628.3 532.5v2.2M695.6 532.5v2.2M789.3 532.5v2.2M869.8 532.5v2.2" stroke="#6e717c" stroke-width="0.9" fill="none"/>
<text x="901.8" y="420.8" font-size="8.3" fill="#52555e" font-weight="normal" text-anchor="start" textLength="25.0" lengthAdjust="spacingAndGlyphs">1440.00</text>
<text x="901.8" y="386.8" font-size="8.3" fill="#52555e" font-weight="normal" text-anchor="start" textLength="25.0" lengthAdjust="spacingAndGlyphs">1450.00</text>
<text x="901.8" y="352.9" font-size="8.3" fill="#52555e" font-weight="normal" text-anchor="start" textLength="25.0" lengthAdjust="spacingAndGlyphs">1460.00</text>
<text x="901.8" y="318.9" font-size="8.3" fill="#52555e" font-weight="normal" text-anchor="start" textLength="25.0" lengthAdjust="spacingAndGlyphs">1470.00</text>
<text x="901.8" y="285.0" font-size="8.3" fill="#52555e" font-weight="normal" text-anchor="start" textLength="25.0" lengthAdjust="spacingAndGlyphs">1480.00</text>
<text x="901.8" y="251.0" font-size="8.3" fill="#52555e" font-weight="normal" text-anchor="start" textLength="25.0" lengthAdjust="spacingAndGlyphs">1490.00</text>
<text x="901.8" y="217.1" font-size="8.3" fill="#52555e" font-weight="normal" text-anchor="start" textLength="25.0" lengthAdjust="spacingAndGlyphs">1500.00</text>
<text x="901.8" y="183.1" font-size="8.3" fill="#52555e" font-weight="normal" text-anchor="start" textLength="25.0" lengthAdjust="spacingAndGlyphs">1510.00</text>
<text x="901.8" y="149.2" font-size="8.3" fill="#52555e" font-weight="normal" text-anchor="start" textLength="25.0" lengthAdjust="spacingAndGlyphs">1520.00</text>
<text x="901.8" y="115.2" font-size="8.3" fill="#52555e" font-weight="normal" text-anchor="start" textLength="25.0" lengthAdjust="spacingAndGlyphs">1530.00</text>
<text x="901.8" y="81.3" font-size="8.3" fill="#52555e" font-weight="normal" text-anchor="start" textLength="25.0" lengthAdjust="spacingAndGlyphs">1540.00</text>
<text x="901.8" y="47.3" font-size="8.3" fill="#52555e" font-weight="normal" text-anchor="start" textLength="25.0" lengthAdjust="spacingAndGlyphs">1550.00</text>
<text x="901.8" y="13.4" font-size="8.3" fill="#52555e" font-weight="normal" text-anchor="start" textLength="25.0" lengthAdjust="spacingAndGlyphs">1560.00</text>
<text x="901.3" y="456.9" font-size="8.3" fill="#52555e" font-weight="normal" text-anchor="start" textLength="13.8" lengthAdjust="spacingAndGlyphs">0.00</text>
<text x="901.8" y="478.7" font-size="8.3" fill="#52555e" font-weight="normal" text-anchor="start" textLength="21.0" lengthAdjust="spacingAndGlyphs">−10.00</text>
<text x="901.8" y="488.3" font-size="8.3" fill="#52555e" font-weight="normal" text-anchor="start" textLength="17.0" lengthAdjust="spacingAndGlyphs">80.00</text>
<text x="901.8" y="516.1" font-size="8.3" fill="#52555e" font-weight="normal" text-anchor="start" textLength="17.0" lengthAdjust="spacingAndGlyphs">40.00</text>
<rect x="897.0" y="482" width="40" height="1" fill="#cbccd0"/><rect x="897.0" y="483" width="40" height="1" fill="#a8aaaf"/>
<rect x="896.0" y="272.2" width="40" height="11.5" fill="#1c1ce6"/>
<path d="M896.5 278.3h3" stroke="#ffffff" stroke-width="0.8"/>
<text x="901.7" y="280.6" font-size="8.3" fill="#ffffff" font-weight="bold" text-anchor="start" textLength="23.8" lengthAdjust="spacingAndGlyphs">1481.08</text>
<rect x="896.0" y="296.5" width="40" height="11.2" fill="#26a69a"/>
<path d="M896.5 302.5h3" stroke="#ffffff" stroke-width="0.8"/>
<text x="901.7" y="304.5" font-size="8.3" fill="#ffffff" font-weight="bold" text-anchor="start" textLength="23.8" lengthAdjust="spacingAndGlyphs">1473.91</text>
<rect x="907.1" y="309" width="30" height="10.7" fill="#26a69a"/>
<text x="909.5" y="317.2" font-size="8.3" fill="#ffffff" font-weight="bold" text-anchor="start" textLength="17.7" lengthAdjust="spacingAndGlyphs">21:00</text>
<text x="26.3" y="544.8" font-size="8.1" fill="#52555e" text-anchor="middle" textLength="3.8" lengthAdjust="spacingAndGlyphs">9</text>
<text x="93.6" y="544.8" font-size="8.1" fill="#52555e" text-anchor="middle" textLength="7.5" lengthAdjust="spacingAndGlyphs">16</text>
<text x="159.7" y="544.8" font-size="8.1" fill="#52555e" text-anchor="middle" textLength="7.5" lengthAdjust="spacingAndGlyphs">23</text>
<text x="239.6" y="544.8" font-size="8.1" fill="#52555e" text-anchor="middle" textLength="11.3" lengthAdjust="spacingAndGlyphs">Oct</text>
<text x="293.6" y="544.8" font-size="8.1" fill="#52555e" text-anchor="middle" textLength="3.8" lengthAdjust="spacingAndGlyphs">7</text>
<text x="360.3" y="544.8" font-size="8.1" fill="#52555e" text-anchor="middle" textLength="7.5" lengthAdjust="spacingAndGlyphs">14</text>
<text x="427.6" y="544.8" font-size="8.1" fill="#52555e" text-anchor="middle" textLength="7.5" lengthAdjust="spacingAndGlyphs">21</text>
<text x="494.3" y="544.8" font-size="8.1" fill="#52555e" text-anchor="middle" textLength="7.5" lengthAdjust="spacingAndGlyphs">28</text>
<text x="548.1" y="544.8" font-size="8.1" fill="#52555e" text-anchor="middle" textLength="12.8" lengthAdjust="spacingAndGlyphs">Nov</text>
<text x="628.3" y="544.8" font-size="8.1" fill="#52555e" text-anchor="middle" textLength="7.5" lengthAdjust="spacingAndGlyphs">11</text>
<text x="695.6" y="544.8" font-size="8.1" fill="#52555e" text-anchor="middle" textLength="7.5" lengthAdjust="spacingAndGlyphs">18</text>
<text x="789.3" y="544.8" font-size="8.1" fill="#52555e" text-anchor="middle" textLength="7.5" lengthAdjust="spacingAndGlyphs">25</text>
<text x="869.8" y="544.8" font-size="8.1" fill="#52555e" text-anchor="middle" textLength="12.8" lengthAdjust="spacingAndGlyphs">Dec</text>
<text x="890.8" y="35.3" font-size="7.9" fill="#8e8e8e" font-weight="normal" text-anchor="end" textLength="55.6" lengthAdjust="spacingAndGlyphs">100.00%(1555.18)</text>
<text x="890.8" y="408.2" font-size="7.9" fill="#5a5a5a" font-weight="normal" text-anchor="end" textLength="52.4" lengthAdjust="spacingAndGlyphs">61.80%(1445.02)</text>
<text stroke="#4c4c4c" stroke-width="0.28" x="4.8" y="13.7" font-size="8.3" fill="#4a4a4a" font-weight="normal" text-anchor="start" textLength="141.2" lengthAdjust="spacingAndGlyphs">Gold Spot / U.S. Dollar, 120, FOREX.com</text>
<text x="4.8" y="24.4" font-size="8.4" fill="#555555" font-weight="normal" text-anchor="start" textLength="56.5" lengthAdjust="spacingAndGlyphs">EMA (200, close)</text>
<text x="5.0" y="447.0" font-size="8.4" fill="#5a5a5a" font-weight="normal" text-anchor="start" textLength="75" lengthAdjust="spacingAndGlyphs">MACD (9, 23, close, 9)</text>
<text x="5.0" y="496.6" font-size="8.4" fill="#5a5a5a" font-weight="normal" text-anchor="start" textLength="63" lengthAdjust="spacingAndGlyphs">Banker Shares (18)</text>
</svg>
</body></html>
